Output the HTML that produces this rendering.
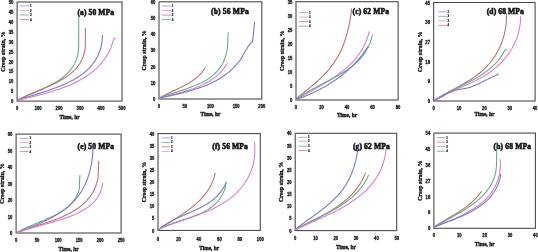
<!DOCTYPE html>
<html><head><meta charset="utf-8"><style>
html,body{margin:0;padding:0;background:#fff;width:538px;height:252px;overflow:hidden}
svg{display:block;will-change:transform}
.tk{font-family:"Liberation Sans", sans-serif;font-weight:bold;font-size:5.0px;fill:#151515;stroke:#151515;stroke-width:0.32}
.al{font-family:"Liberation Serif", serif;font-weight:bold;font-size:5.4px;fill:#111;stroke:#111;stroke-width:0.32}
.yl{font-family:"Liberation Serif", serif;font-weight:bold;font-size:5.9px;fill:#111;stroke:#111;stroke-width:0.3}
.ti{font-family:"Liberation Serif", serif;font-weight:bold;font-size:7.6px;fill:#111;stroke:#111;stroke-width:0.55}
.lg{font-family:"Liberation Sans", sans-serif;font-weight:bold;font-size:2.9px;fill:#222;stroke:#222;stroke-width:0.2}
</style></head><body>
<svg width="538" height="252" viewBox="0 0 538 252">
<g><rect x="17.1" y="2" width="104.9" height="99.1" fill="none" stroke="#4a4a4a" stroke-width="1.1"/><text x="13.4" y="103.15" text-anchor="end" class="tk" textLength="2.3" lengthAdjust="spacingAndGlyphs">0</text><text x="13.4" y="93.24" text-anchor="end" class="tk" textLength="2.3" lengthAdjust="spacingAndGlyphs">5</text><text x="13.4" y="83.33" text-anchor="end" class="tk" textLength="4.6" lengthAdjust="spacingAndGlyphs">10</text><text x="13.4" y="73.42" text-anchor="end" class="tk" textLength="4.6" lengthAdjust="spacingAndGlyphs">15</text><text x="13.4" y="63.51" text-anchor="end" class="tk" textLength="4.6" lengthAdjust="spacingAndGlyphs">20</text><text x="13.4" y="53.6" text-anchor="end" class="tk" textLength="4.6" lengthAdjust="spacingAndGlyphs">25</text><text x="13.4" y="43.69" text-anchor="end" class="tk" textLength="4.6" lengthAdjust="spacingAndGlyphs">30</text><text x="13.4" y="33.78" text-anchor="end" class="tk" textLength="4.6" lengthAdjust="spacingAndGlyphs">35</text><text x="13.4" y="23.87" text-anchor="end" class="tk" textLength="4.6" lengthAdjust="spacingAndGlyphs">40</text><text x="13.4" y="13.96" text-anchor="end" class="tk" textLength="4.6" lengthAdjust="spacingAndGlyphs">45</text><text x="13.4" y="4.05" text-anchor="end" class="tk" textLength="4.6" lengthAdjust="spacingAndGlyphs">50</text><text x="17.1" y="109.85" text-anchor="middle" class="tk" textLength="2.3" lengthAdjust="spacingAndGlyphs">0</text><text x="38.08" y="109.85" text-anchor="middle" class="tk" textLength="6.9" lengthAdjust="spacingAndGlyphs">100</text><text x="59.06" y="109.85" text-anchor="middle" class="tk" textLength="6.9" lengthAdjust="spacingAndGlyphs">200</text><text x="80.04" y="109.85" text-anchor="middle" class="tk" textLength="6.9" lengthAdjust="spacingAndGlyphs">300</text><text x="101.02" y="109.85" text-anchor="middle" class="tk" textLength="6.9" lengthAdjust="spacingAndGlyphs">400</text><text x="122" y="109.85" text-anchor="middle" class="tk" textLength="6.9" lengthAdjust="spacingAndGlyphs">500</text><text x="69.55" y="118.88" text-anchor="middle" class="al">Time, hr</text><text transform="translate(5.11 51.55) rotate(-90)" x="0" y="0" text-anchor="middle" class="yl">Creep strain, %</text><text x="77.5" y="14.88" class="ti" textLength="36.5" lengthAdjust="spacing">(a) 50 MPa</text><path d="M17.3 100.3 L17.94 99.79 L18.51 99.53 L19.07 99.27 L19.64 99 L20.22 98.74 L20.8 98.48 L21.38 98.22 L21.97 97.96 L22.56 97.69 L23.16 97.43 L23.76 97.17 L24.36 96.91 L24.96 96.65 L25.57 96.39 L26.18 96.13 L26.8 95.87 L27.41 95.61 L28.03 95.35 L28.65 95.09 L29.28 94.83 L29.9 94.57 L30.53 94.31 L31.16 94.04 L31.79 93.78 L32.42 93.51 L33.05 93.25 L33.69 92.98 L34.32 92.71 L34.96 92.44 L35.6 92.17 L36.24 91.9 L36.87 91.63 L37.51 91.35 L38.15 91.07 L38.79 90.8 L39.43 90.52 L40.07 90.24 L40.71 89.95 L41.34 89.67 L41.98 89.38 L42.62 89.09 L43.25 88.8 L43.89 88.5 L44.52 88.21 L45.15 87.91 L45.78 87.61 L46.41 87.3 L47.03 86.99 L47.66 86.68 L48.28 86.37 L48.9 86.06 L49.52 85.74 L50.13 85.42 L50.75 85.09 L51.36 84.77 L51.96 84.43 L52.57 84.1 L53.17 83.76 L53.76 83.42 L54.36 83.08 L54.95 82.73 L55.53 82.37 L56.12 82.02 L56.69 81.66 L57.27 81.29 L57.84 80.93 L58.4 80.55 L58.96 80.18 L59.52 79.8 L60.07 79.41 L60.61 79.02 L61.15 78.63 L61.69 78.23 L62.22 77.82 L62.74 77.41 L63.26 77 L63.77 76.58 L64.27 76.16 L64.77 75.73 L65.27 75.3 L65.75 74.86 L66.23 74.41 L66.71 73.96 L67.17 73.51 L67.63 73.05 L68.08 72.58 L68.53 72.11 L68.96 71.63 L69.39 71.15 L69.81 70.66 L70.23 70.16 L70.63 69.66 L71.03 69.15 L71.42 68.64 L71.8 68.11 L72.17 67.59 L72.53 67.05 L72.89 66.51 L73.23 65.97 L73.57 65.41 L73.89 64.85 L74.21 64.28 L74.52 63.71 L74.81 63.13 L75.1 62.54 L75.38 61.94 L75.64 61.34 L75.9 60.73 L76.15 60.11 L76.38 59.49 L76.6 58.85 L76.82 58.21 L77.02 57.56 L77.21 56.91 L77.39 56.24 L77.56 55.57 L77.72 54.89 L77.86 54.2 L77.99 53.5 L78.11 52.8 L78.22 52.08 L78.32 51.36 L78.4 50.63 L78.47 49.89 L78.53 49.14 L78.58 48.39 L78.61 47.62 L78.63 46.85 L78.63 46.06 L78.62 45.27 L78.7 45 L78.75 15.6" fill="none" stroke="#5caa80" stroke-width="1.05" stroke-linejoin="round"/><path d="M17.3 100.3 L17.99 99.99 L18.53 99.69 L19.06 99.39 L19.61 99.09 L20.16 98.8 L20.71 98.5 L21.27 98.21 L21.84 97.92 L22.41 97.64 L22.98 97.35 L23.56 97.07 L24.14 96.79 L24.72 96.51 L25.31 96.23 L25.91 95.95 L26.51 95.68 L27.11 95.4 L27.71 95.13 L28.32 94.86 L28.93 94.59 L29.54 94.32 L30.16 94.05 L30.78 93.78 L31.4 93.52 L32.03 93.25 L32.65 92.98 L33.28 92.72 L33.91 92.45 L34.54 92.19 L35.18 91.92 L35.82 91.66 L36.45 91.39 L37.09 91.13 L37.73 90.86 L38.38 90.6 L39.02 90.33 L39.66 90.07 L40.31 89.8 L40.95 89.53 L41.6 89.26 L42.24 88.99 L42.89 88.72 L43.54 88.45 L44.18 88.18 L44.83 87.91 L45.47 87.63 L46.12 87.35 L46.76 87.08 L47.41 86.8 L48.05 86.52 L48.69 86.23 L49.33 85.95 L49.97 85.66 L50.61 85.37 L51.25 85.08 L51.88 84.79 L52.51 84.49 L53.14 84.2 L53.77 83.89 L54.4 83.59 L55.02 83.29 L55.65 82.98 L56.27 82.67 L56.88 82.35 L57.5 82.04 L58.11 81.72 L58.71 81.39 L59.32 81.07 L59.92 80.74 L60.52 80.4 L61.11 80.07 L61.7 79.73 L62.29 79.38 L62.87 79.03 L63.45 78.68 L64.02 78.32 L64.59 77.96 L65.15 77.6 L65.71 77.23 L66.27 76.86 L66.82 76.48 L67.36 76.1 L67.9 75.71 L68.43 75.32 L68.96 74.92 L69.49 74.52 L70 74.12 L70.51 73.7 L71.02 73.29 L71.52 72.87 L72.01 72.44 L72.49 72.01 L72.97 71.57 L73.45 71.12 L73.91 70.67 L74.37 70.22 L74.82 69.76 L75.26 69.29 L75.7 68.82 L76.13 68.34 L76.55 67.85 L76.97 67.36 L77.37 66.86 L77.77 66.35 L78.16 65.84 L78.54 65.32 L78.91 64.8 L79.27 64.26 L79.63 63.72 L79.98 63.18 L80.31 62.62 L80.64 62.06 L80.96 61.5 L81.27 60.92 L81.57 60.34 L81.86 59.75 L82.14 59.15 L82.41 58.54 L82.67 57.93 L82.92 57.3 L83.16 56.67 L83.39 56.03 L83.61 55.39 L83.81 54.73 L84.01 54.07 L84.2 53.4 L84.37 52.71 L84.53 52.03 L84.69 51.33 L84.83 50.62 L84.96 49.9 L85.07 49.18 L85.18 48.44 L85.27 47.7 L85.35 46.95 L85.42 46.18 L85.47 45.41 L85.3 45 L85.4 28.1" fill="none" stroke="#bc6c64" stroke-width="1.05" stroke-linejoin="round"/><path d="M17.3 100.3 L18.07 99.98 L18.65 99.78 L19.23 99.59 L19.81 99.4 L20.4 99.21 L20.99 99.01 L21.58 98.82 L22.18 98.63 L22.78 98.44 L23.39 98.25 L23.99 98.06 L24.6 97.87 L25.22 97.68 L25.83 97.49 L26.45 97.3 L27.07 97.1 L27.69 96.91 L28.32 96.72 L28.95 96.53 L29.58 96.34 L30.21 96.15 L30.84 95.95 L31.48 95.76 L32.12 95.57 L32.76 95.37 L33.4 95.18 L34.04 94.98 L34.69 94.79 L35.34 94.59 L35.98 94.39 L36.63 94.19 L37.28 93.99 L37.94 93.79 L38.59 93.59 L39.24 93.39 L39.9 93.19 L40.55 92.98 L41.21 92.77 L41.87 92.57 L42.53 92.36 L43.19 92.15 L43.84 91.94 L44.5 91.73 L45.16 91.51 L45.82 91.3 L46.48 91.08 L47.14 90.86 L47.8 90.64 L48.46 90.42 L49.12 90.2 L49.78 89.97 L50.44 89.74 L51.1 89.52 L51.76 89.28 L52.41 89.05 L53.07 88.82 L53.73 88.58 L54.38 88.34 L55.04 88.1 L55.69 87.85 L56.34 87.61 L56.99 87.36 L57.64 87.11 L58.29 86.86 L58.94 86.6 L59.58 86.34 L60.22 86.08 L60.87 85.82 L61.51 85.55 L62.14 85.29 L62.78 85.01 L63.41 84.74 L64.05 84.46 L64.68 84.18 L65.3 83.9 L65.93 83.61 L66.55 83.33 L67.17 83.03 L67.79 82.74 L68.4 82.44 L69.02 82.14 L69.63 81.83 L70.23 81.53 L70.84 81.21 L71.44 80.9 L72.03 80.58 L72.63 80.26 L73.22 79.93 L73.81 79.61 L74.39 79.27 L74.97 78.94 L75.55 78.6 L76.12 78.25 L76.69 77.9 L77.25 77.55 L77.81 77.2 L78.37 76.84 L78.92 76.47 L79.47 76.11 L80.02 75.73 L80.56 75.36 L81.09 74.98 L81.62 74.59 L82.15 74.2 L82.67 73.81 L83.19 73.41 L83.7 73.01 L84.21 72.6 L84.71 72.19 L85.2 71.78 L85.69 71.36 L86.18 70.93 L86.66 70.5 L87.14 70.07 L87.61 69.63 L88.07 69.18 L88.53 68.73 L88.98 68.28 L89.43 67.82 L89.87 67.35 L90.3 66.88 L90.73 66.41 L91.15 65.93 L91.57 65.44 L91.98 64.95 L92.38 64.46 L92.78 63.95 L93.17 63.45 L93.55 62.93 L93.93 62.42 L94.29 61.89 L94.66 61.36 L95.01 60.83 L95.36 60.29 L95.7 59.74 L96.03 59.19 L96.36 58.64 L96.68 58.07 L96.99 57.5 L97.29 56.93 L97.59 56.35 L97.88 55.76 L98.16 55.17 L98.43 54.57 L98.69 53.97 L98.95 53.35 L99.2 52.74 L99.43 52.11 L99.66 51.49 L99.89 50.85 L100.1 50.21 L100.31 49.56 L100.5 48.91 L100.69 48.25 L100.87 47.58 L101.04 46.9 L101.2 46.22 L101.35 45.54 L101.49 44.84 L101.62 44.14 L101.74 43.44 L101.86 42.72 L101.96 42 L102.05 41.28 L102.14 40.54 L102.21 39.8 L102.28 39.06 L102.33 38.3 L102.38 37.54 L102.41 36.77 L102.43 36 L102.45 35.21 L102.5 35" fill="none" stroke="#7674c0" stroke-width="1.05" stroke-linejoin="round"/><path d="M17.3 100.3 L18.12 100.12 L18.73 99.97 L19.34 99.83 L19.95 99.68 L20.56 99.54 L21.18 99.39 L21.79 99.25 L22.41 99.1 L23.04 98.96 L23.66 98.81 L24.29 98.66 L24.92 98.52 L25.55 98.37 L26.18 98.22 L26.81 98.07 L27.45 97.92 L28.09 97.77 L28.72 97.61 L29.37 97.46 L30.01 97.31 L30.65 97.15 L31.3 97 L31.94 96.84 L32.59 96.68 L33.24 96.53 L33.89 96.37 L34.54 96.21 L35.19 96.04 L35.85 95.88 L36.5 95.72 L37.15 95.55 L37.81 95.39 L38.47 95.22 L39.12 95.05 L39.78 94.88 L40.44 94.71 L41.1 94.54 L41.76 94.36 L42.42 94.18 L43.08 94.01 L43.74 93.83 L44.4 93.65 L45.07 93.46 L45.73 93.28 L46.39 93.1 L47.05 92.91 L47.71 92.72 L48.38 92.53 L49.04 92.34 L49.7 92.14 L50.36 91.94 L51.02 91.75 L51.68 91.55 L52.34 91.34 L53 91.14 L53.66 90.93 L54.32 90.72 L54.98 90.51 L55.64 90.3 L56.3 90.09 L56.95 89.87 L57.61 89.65 L58.26 89.43 L58.92 89.2 L59.57 88.98 L60.22 88.75 L60.87 88.52 L61.52 88.28 L62.17 88.05 L62.82 87.81 L63.46 87.57 L64.11 87.32 L64.75 87.08 L65.39 86.83 L66.03 86.58 L66.67 86.32 L67.31 86.07 L67.94 85.81 L68.58 85.54 L69.21 85.28 L69.84 85.01 L70.47 84.74 L71.09 84.46 L71.72 84.18 L72.34 83.9 L72.96 83.62 L73.58 83.33 L74.19 83.04 L74.8 82.75 L75.41 82.46 L76.02 82.16 L76.63 81.85 L77.23 81.55 L77.83 81.24 L78.43 80.93 L79.02 80.61 L79.62 80.29 L80.21 79.97 L80.79 79.64 L81.38 79.31 L81.96 78.98 L82.54 78.64 L83.11 78.3 L83.68 77.96 L84.25 77.61 L84.82 77.26 L85.38 76.9 L85.94 76.54 L86.49 76.18 L87.04 75.81 L87.59 75.44 L88.14 75.07 L88.68 74.69 L89.22 74.3 L89.75 73.92 L90.28 73.53 L90.81 73.13 L91.33 72.73 L91.85 72.33 L92.36 71.92 L92.87 71.51 L93.38 71.09 L93.88 70.67 L94.37 70.25 L94.87 69.82 L95.36 69.39 L95.84 68.95 L96.32 68.51 L96.8 68.06 L97.27 67.61 L97.73 67.15 L98.19 66.69 L98.65 66.23 L99.1 65.76 L99.55 65.28 L99.99 64.8 L100.43 64.32 L100.86 63.83 L101.29 63.34 L101.71 62.84 L102.13 62.33 L102.54 61.83 L102.95 61.31 L103.35 60.79 L103.74 60.27 L104.13 59.74 L104.52 59.21 L104.9 58.67 L105.27 58.13 L105.64 57.58 L106 57.02 L106.36 56.46 L106.71 55.9 L107.05 55.33 L107.39 54.75 L107.72 54.17 L108.05 53.58 L108.37 52.99 L108.68 52.4 L108.99 51.79 L109.29 51.18 L109.59 50.57 L109.88 49.95 L110.16 49.32 L110.44 48.69 L110.71 48.06 L110.97 47.41 L111.23 46.76 L111.47 46.11 L111.72 45.45 L111.95 44.78 L112.18 44.11 L112.4 43.43 L112.62 42.75 L112.83 42.06 L113.03 41.36 L113.22 40.66 L113.41 39.95 L113.59 39.24 L113.9 38.9 L114.8 38.2 L116 38.3" fill="none" stroke="#d878d6" stroke-width="1.05" stroke-linejoin="round"/><line x1="19.8" y1="5.9" x2="29" y2="5.9" stroke="#a8a8dc" stroke-width="1"/><text x="29.9" y="6.95" class="lg">1</text><line x1="19.8" y1="10.6" x2="29" y2="10.6" stroke="#e8a0e0" stroke-width="1"/><text x="29.9" y="11.65" class="lg">2</text><line x1="19.8" y1="15" x2="29" y2="15" stroke="#80c0a0" stroke-width="1"/><text x="29.9" y="16.05" class="lg">3</text><line x1="19.8" y1="19.5" x2="29" y2="19.5" stroke="#d09890" stroke-width="1"/><text x="29.9" y="20.55" class="lg">4</text></g>
<g><rect x="159" y="1.8" width="102.8" height="97.2" fill="none" stroke="#4a4a4a" stroke-width="1.1"/><text x="155.3" y="101.05" text-anchor="end" class="tk" textLength="2.3" lengthAdjust="spacingAndGlyphs">0</text><text x="155.3" y="84.85" text-anchor="end" class="tk" textLength="4.6" lengthAdjust="spacingAndGlyphs">10</text><text x="155.3" y="68.65" text-anchor="end" class="tk" textLength="4.6" lengthAdjust="spacingAndGlyphs">20</text><text x="155.3" y="52.45" text-anchor="end" class="tk" textLength="4.6" lengthAdjust="spacingAndGlyphs">30</text><text x="155.3" y="36.25" text-anchor="end" class="tk" textLength="4.6" lengthAdjust="spacingAndGlyphs">40</text><text x="155.3" y="20.05" text-anchor="end" class="tk" textLength="4.6" lengthAdjust="spacingAndGlyphs">50</text><text x="155.3" y="3.85" text-anchor="end" class="tk" textLength="4.6" lengthAdjust="spacingAndGlyphs">60</text><text x="159" y="108.16" text-anchor="middle" class="tk" textLength="2.3" lengthAdjust="spacingAndGlyphs">0</text><text x="184.7" y="108.16" text-anchor="middle" class="tk" textLength="4.6" lengthAdjust="spacingAndGlyphs">50</text><text x="210.4" y="108.16" text-anchor="middle" class="tk" textLength="6.9" lengthAdjust="spacingAndGlyphs">100</text><text x="236.1" y="108.16" text-anchor="middle" class="tk" textLength="6.9" lengthAdjust="spacingAndGlyphs">150</text><text x="261.8" y="108.16" text-anchor="middle" class="tk" textLength="6.9" lengthAdjust="spacingAndGlyphs">200</text><text x="210.4" y="115.58" text-anchor="middle" class="al">Time, hr</text><text transform="translate(146.01 50.4) rotate(-90)" x="0" y="0" text-anchor="middle" class="yl">Creep strain, %</text><text x="211" y="14.48" class="ti" textLength="37.8" lengthAdjust="spacing">(b) 56 MPa</text><path d="M159.3 98.3 L159.79 97.78 L160.36 97.43 L160.94 97.09 L161.51 96.76 L162.1 96.43 L162.68 96.1 L163.27 95.78 L163.86 95.46 L164.45 95.15 L165.04 94.84 L165.64 94.53 L166.24 94.22 L166.84 93.92 L167.45 93.62 L168.06 93.32 L168.66 93.03 L169.27 92.73 L169.88 92.44 L170.5 92.15 L171.11 91.86 L171.72 91.58 L172.34 91.29 L172.96 91 L173.57 90.72 L174.19 90.43 L174.81 90.15 L175.42 89.86 L176.04 89.58 L176.66 89.29 L177.27 89 L177.89 88.72 L178.5 88.43 L179.12 88.14 L179.73 87.85 L180.34 87.55 L180.95 87.26 L181.56 86.96 L182.17 86.66 L182.77 86.36 L183.38 86.05 L183.98 85.75 L184.58 85.43 L185.18 85.12 L185.77 84.8 L186.36 84.48 L186.95 84.15 L187.54 83.82 L188.12 83.49 L188.7 83.15 L189.27 82.81 L189.85 82.46 L190.41 82.1 L190.98 81.74 L191.54 81.38 L192.09 81.01 L192.65 80.63 L193.19 80.25 L193.73 79.86 L194.27 79.46 L194.8 79.06 L195.33 78.65 L195.85 78.23 L196.37 77.8 L196.88 77.37 L197.38 76.93 L197.88 76.48 L198.38 76.02 L198.86 75.56 L199.34 75.08 L199.82 74.6 L200.28 74.11 L200.74 73.61 L201.2 73.1 L201.64 72.58 L202.08 72.04 L202.51 71.5 L202.94 70.95 L203.35 70.39 L203.76 69.82 L204.16 69.23 L204.55 68.64 L204.93 68.03 L205.4 67.6" fill="none" stroke="#bc6c64" stroke-width="1.05" stroke-linejoin="round"/><path d="M159.3 98.3 L159.88 97.84 L160.47 97.6 L161.06 97.36 L161.65 97.12 L162.25 96.88 L162.85 96.65 L163.46 96.42 L164.06 96.19 L164.68 95.97 L165.29 95.74 L165.91 95.52 L166.53 95.3 L167.15 95.08 L167.78 94.86 L168.41 94.65 L169.04 94.43 L169.67 94.22 L170.31 94.01 L170.95 93.8 L171.59 93.59 L172.23 93.38 L172.87 93.17 L173.51 92.96 L174.16 92.75 L174.81 92.54 L175.46 92.33 L176.11 92.13 L176.76 91.92 L177.41 91.71 L178.06 91.5 L178.72 91.29 L179.37 91.08 L180.03 90.87 L180.68 90.66 L181.33 90.45 L181.99 90.24 L182.64 90.02 L183.3 89.81 L183.95 89.59 L184.61 89.38 L185.26 89.16 L185.91 88.94 L186.57 88.72 L187.22 88.49 L187.87 88.27 L188.52 88.04 L189.16 87.81 L189.81 87.57 L190.46 87.34 L191.1 87.1 L191.74 86.86 L192.38 86.62 L193.02 86.37 L193.65 86.13 L194.29 85.87 L194.92 85.62 L195.55 85.36 L196.17 85.1 L196.8 84.84 L197.42 84.57 L198.04 84.29 L198.65 84.02 L199.26 83.74 L199.87 83.45 L200.48 83.17 L201.08 82.87 L201.68 82.58 L202.27 82.27 L202.86 81.97 L203.45 81.66 L204.03 81.34 L204.61 81.02 L205.19 80.69 L205.76 80.36 L206.32 80.03 L206.88 79.69 L207.44 79.34 L207.99 78.99 L208.53 78.63 L209.07 78.26 L209.61 77.89 L210.14 77.52 L210.66 77.13 L211.18 76.74 L211.7 76.35 L212.2 75.95 L212.71 75.54 L213.2 75.12 L213.69 74.7 L214.17 74.27 L214.65 73.84 L215.12 73.39 L215.58 72.94 L216.04 72.48 L216.49 72.02 L216.93 71.55 L217.36 71.07 L217.79 70.58 L218.21 70.08 L218.63 69.57 L219.03 69.06 L219.43 68.54 L219.82 68.01 L220.2 67.47 L220.57 66.93 L220.94 66.37 L221.3 65.81 L221.65 65.23 L221.99 64.65 L222.32 64.06 L222.64 63.46 L222.95 62.85 L223.26 62.23 L223.55 61.6 L223.84 60.96 L224.12 60.31 L224.38 59.65 L224.64 58.98 L224.89 58.3 L225.13 57.61 L225.36 56.91 L225.57 56.2 L225.78 55.48 L225.98 54.75 L226.16 54 L226.34 53.25 L226.6 53 L227.6 46 L228.1 32.6" fill="none" stroke="#5caa80" stroke-width="1.05" stroke-linejoin="round"/><path d="M159.3 98.3 L159.95 98.01 L160.57 97.83 L161.19 97.65 L161.82 97.48 L162.45 97.3 L163.08 97.13 L163.71 96.96 L164.35 96.78 L164.98 96.61 L165.62 96.44 L166.26 96.27 L166.91 96.1 L167.55 95.93 L168.2 95.76 L168.84 95.6 L169.49 95.43 L170.14 95.26 L170.79 95.09 L171.45 94.92 L172.1 94.75 L172.75 94.58 L173.41 94.41 L174.06 94.24 L174.72 94.07 L175.38 93.9 L176.04 93.73 L176.69 93.56 L177.35 93.38 L178.01 93.21 L178.67 93.03 L179.33 92.85 L179.99 92.67 L180.65 92.49 L181.31 92.31 L181.97 92.13 L182.63 91.94 L183.29 91.76 L183.94 91.57 L184.6 91.38 L185.26 91.18 L185.91 90.99 L186.57 90.79 L187.22 90.59 L187.88 90.39 L188.53 90.18 L189.18 89.98 L189.83 89.77 L190.48 89.55 L191.13 89.34 L191.77 89.12 L192.42 88.9 L193.06 88.67 L193.7 88.44 L194.34 88.21 L194.98 87.98 L195.61 87.74 L196.25 87.5 L196.88 87.25 L197.51 87 L198.13 86.75 L198.76 86.49 L199.38 86.23 L200 85.96 L200.62 85.69 L201.23 85.42 L201.84 85.14 L202.45 84.86 L203.05 84.57 L203.66 84.28 L204.26 83.98 L204.85 83.68 L205.44 83.37 L206.03 83.06 L206.62 82.74 L207.2 82.42 L207.78 82.09 L208.35 81.75 L208.93 81.42 L209.49 81.07 L210.06 80.72 L210.62 80.36 L211.17 80 L211.72 79.63 L212.27 79.26 L212.81 78.88 L213.35 78.49 L213.88 78.1 L214.41 77.7 L214.93 77.29 L215.45 76.88 L215.97 76.46 L216.47 76.03 L216.98 75.6 L217.48 75.16 L217.97 74.71 L218.46 74.26 L218.94 73.8 L219.42 73.33 L219.89 72.85 L220.36 72.36 L220.82 71.87 L221.27 71.37 L221.72 70.87 L222.16 70.35 L222.6 69.83 L223.03 69.3 L223.46 68.76 L223.87 68.21 L224.29 67.65 L224.69 67.09 L225.09 66.51 L225.48 65.93 L225.87 65.34 L226.24 64.74 L226.62 64.13 L226.98 63.51 L227.2 63" fill="none" stroke="#d878d6" stroke-width="1.05" stroke-linejoin="round"/><path d="M159.3 98.3 L159.98 98.15 L160.63 98 L161.27 97.85 L161.91 97.7 L162.56 97.55 L163.21 97.4 L163.85 97.25 L164.5 97.11 L165.15 96.96 L165.8 96.81 L166.45 96.66 L167.1 96.51 L167.76 96.36 L168.41 96.22 L169.06 96.07 L169.72 95.92 L170.37 95.77 L171.03 95.62 L171.68 95.47 L172.34 95.32 L173 95.16 L173.65 95.01 L174.31 94.86 L174.97 94.7 L175.62 94.55 L176.28 94.39 L176.94 94.24 L177.6 94.08 L178.25 93.92 L178.91 93.76 L179.57 93.6 L180.23 93.44 L180.88 93.28 L181.54 93.11 L182.2 92.95 L182.85 92.78 L183.51 92.61 L184.17 92.44 L184.82 92.27 L185.48 92.1 L186.13 91.92 L186.79 91.75 L187.44 91.57 L188.09 91.39 L188.75 91.21 L189.4 91.03 L190.05 90.84 L190.7 90.65 L191.35 90.46 L192 90.27 L192.65 90.08 L193.29 89.88 L193.94 89.68 L194.58 89.48 L195.23 89.28 L195.87 89.07 L196.51 88.87 L197.15 88.65 L197.79 88.44 L198.43 88.23 L199.07 88.01 L199.7 87.79 L200.34 87.56 L200.97 87.33 L201.6 87.11 L202.23 86.87 L202.86 86.64 L203.48 86.4 L204.11 86.16 L204.73 85.91 L205.35 85.66 L205.97 85.41 L206.59 85.15 L207.21 84.9 L207.82 84.63 L208.44 84.37 L209.05 84.1 L209.65 83.83 L210.26 83.55 L210.87 83.27 L211.47 82.99 L212.07 82.7 L212.67 82.41 L213.26 82.11 L213.86 81.81 L214.45 81.51 L215.04 81.2 L215.62 80.89 L216.21 80.57 L216.79 80.25 L217.37 79.93 L217.94 79.6 L218.52 79.27 L219.09 78.93 L219.66 78.58 L220.22 78.24 L220.79 77.89 L221.35 77.53 L221.9 77.17 L222.46 76.8 L223.01 76.43 L223.56 76.06 L224.1 75.68 L224.65 75.29 L225.19 74.9 L225.72 74.51 L226.26 74.11 L226.79 73.7 L227.31 73.29 L227.84 72.87 L228.36 72.45 L228.87 72.02 L229.39 71.59 L229.9 71.15 L230.4 70.71 L230.91 70.26 L231.4 69.8 L231.9 69.34 L232.39 68.88 L232.88 68.4 L233.36 67.92 L233.84 67.44 L234.32 66.95 L234.79 66.45 L235.26 65.95 L235.73 65.44 L236.19 64.93 L236.65 64.41 L237.1 63.88 L237.55 63.34 L237.99 62.8 L238.43 62.26 L238.87 61.7 L239.3 61.14 L239.8 60.8 L247.8 46.9 L250.8 42.9 L252.5 41.5 L253.5 33 L254.6 21.8" fill="none" stroke="#7674c0" stroke-width="1.05" stroke-linejoin="round"/><line x1="161.7" y1="6" x2="170.9" y2="6" stroke="#a8a8dc" stroke-width="1"/><text x="171.8" y="7.05" class="lg">1</text><line x1="161.7" y1="10.5" x2="170.9" y2="10.5" stroke="#e8a0e0" stroke-width="1"/><text x="171.8" y="11.55" class="lg">2</text><line x1="161.7" y1="15.1" x2="170.9" y2="15.1" stroke="#d09890" stroke-width="1"/><text x="171.8" y="16.15" class="lg">3</text><line x1="161.7" y1="19.5" x2="170.9" y2="19.5" stroke="#80c0a0" stroke-width="1"/><text x="171.8" y="20.55" class="lg">4</text></g>
<g><rect x="296" y="1.7" width="102.1" height="98.3" fill="none" stroke="#4a4a4a" stroke-width="1.1"/><text x="292.3" y="102.05" text-anchor="end" class="tk" textLength="2.3" lengthAdjust="spacingAndGlyphs">0</text><text x="292.3" y="88.01" text-anchor="end" class="tk" textLength="2.3" lengthAdjust="spacingAndGlyphs">5</text><text x="292.3" y="73.96" text-anchor="end" class="tk" textLength="4.6" lengthAdjust="spacingAndGlyphs">10</text><text x="292.3" y="59.92" text-anchor="end" class="tk" textLength="4.6" lengthAdjust="spacingAndGlyphs">15</text><text x="292.3" y="45.88" text-anchor="end" class="tk" textLength="4.6" lengthAdjust="spacingAndGlyphs">20</text><text x="292.3" y="31.84" text-anchor="end" class="tk" textLength="4.6" lengthAdjust="spacingAndGlyphs">25</text><text x="292.3" y="17.79" text-anchor="end" class="tk" textLength="4.6" lengthAdjust="spacingAndGlyphs">30</text><text x="292.3" y="3.75" text-anchor="end" class="tk" textLength="4.6" lengthAdjust="spacingAndGlyphs">35</text><text x="296" y="109.16" text-anchor="middle" class="tk" textLength="2.3" lengthAdjust="spacingAndGlyphs">0</text><text x="321.52" y="109.16" text-anchor="middle" class="tk" textLength="4.6" lengthAdjust="spacingAndGlyphs">20</text><text x="347.05" y="109.16" text-anchor="middle" class="tk" textLength="4.6" lengthAdjust="spacingAndGlyphs">40</text><text x="372.58" y="109.16" text-anchor="middle" class="tk" textLength="4.6" lengthAdjust="spacingAndGlyphs">60</text><text x="398.1" y="109.16" text-anchor="middle" class="tk" textLength="4.6" lengthAdjust="spacingAndGlyphs">80</text><text x="347.05" y="117.38" text-anchor="middle" class="al">Time, hr</text><text transform="translate(284.01 50.85) rotate(-90)" x="0" y="0" text-anchor="middle" class="yl">Creep strain, %</text><text x="352.5" y="14.48" class="ti" textLength="36.5" lengthAdjust="spacing">(c) 62 MPa</text><path d="M296.1 99.5 L296.23 98.65 L296.75 98.22 L297.26 97.8 L297.78 97.37 L298.3 96.95 L298.83 96.52 L299.35 96.1 L299.87 95.68 L300.4 95.26 L300.93 94.83 L301.45 94.41 L301.98 93.99 L302.51 93.57 L303.04 93.15 L303.56 92.73 L304.09 92.31 L304.62 91.88 L305.15 91.46 L305.68 91.04 L306.21 90.62 L306.74 90.19 L307.27 89.77 L307.8 89.34 L308.32 88.92 L308.85 88.49 L309.38 88.07 L309.9 87.64 L310.43 87.21 L310.95 86.78 L311.47 86.35 L312 85.92 L312.52 85.48 L313.03 85.05 L313.55 84.61 L314.07 84.18 L314.58 83.74 L315.09 83.3 L315.61 82.85 L316.11 82.41 L316.62 81.96 L317.13 81.52 L317.63 81.07 L318.13 80.61 L318.63 80.16 L319.12 79.7 L319.61 79.25 L320.1 78.79 L320.59 78.32 L321.07 77.86 L321.55 77.39 L322.03 76.92 L322.51 76.44 L322.98 75.97 L323.45 75.49 L323.91 75.01 L324.37 74.52 L324.83 74.04 L325.29 73.55 L325.74 73.05 L326.19 72.56 L326.63 72.06 L327.07 71.56 L327.51 71.06 L327.94 70.55 L328.38 70.04 L328.8 69.53 L329.23 69.01 L329.64 68.5 L330.06 67.97 L330.47 67.45 L330.88 66.93 L331.28 66.4 L331.68 65.87 L332.08 65.33 L332.47 64.79 L332.86 64.25 L333.25 63.71 L333.63 63.17 L334 62.62 L334.38 62.07 L334.74 61.51 L335.11 60.95 L335.47 60.39 L335.82 59.83 L336.18 59.27 L336.52 58.7 L336.87 58.13 L337.21 57.55 L337.54 56.98 L337.87 56.4 L338.2 55.81 L338.52 55.23 L338.83 54.64 L339.15 54.05 L339.45 53.45 L339.76 52.86 L340.06 52.26 L340.35 51.66 L340.64 51.05 L340.93 50.44 L341.21 49.83 L341.49 49.22 L341.76 48.61 L342.03 47.99 L342.29 47.37 L342.55 46.75 L342.81 46.12 L343.06 45.5 L343.31 44.87 L343.56 44.24 L343.8 43.61 L344.04 42.98 L344.27 42.34 L344.5 41.7 L344.72 41.06 L344.94 40.42 L345.16 39.78 L345.38 39.13 L345.59 38.49 L345.79 37.84 L345.99 37.19 L346.19 36.54 L346.39 35.89 L346.58 35.24 L346.77 34.58 L346.95 33.93 L347.14 33.27 L347.31 32.61 L347.49 31.96 L347.66 31.3 L347.83 30.64 L347.99 29.97 L348.15 29.31 L348.31 28.65 L348.46 27.98 L348.61 27.32 L348.76 26.65 L348.91 25.99 L349.05 25.32 L349.19 24.66 L349.32 23.99 L349.45 23.32 L349.58 22.65 L349.71 21.98 L349.83 21.32 L349.95 20.65 L350.07 19.98 L350.19 19.31 L350.3 18.64 L350.41 17.97 L350.51 17.3 L350.62 16.63 L350.72 15.97 L350.81 15.3 L350.91 14.63 L351 13.96 L351.09 13.29 L351.18 12.63 L351.26 11.96 L351.35 11.29 L351.43 10.63 L351.5 9.96 L351.58 9.3 L351.7 8.7" fill="none" stroke="#bc6c64" stroke-width="1.05" stroke-linejoin="round"/><path d="M296.1 99.5 L296.75 99.19 L297.3 98.87 L297.87 98.55 L298.43 98.23 L298.99 97.91 L299.56 97.58 L300.13 97.26 L300.7 96.94 L301.27 96.62 L301.84 96.3 L302.42 95.98 L302.99 95.66 L303.57 95.33 L304.15 95.01 L304.73 94.69 L305.31 94.37 L305.89 94.04 L306.48 93.72 L307.06 93.4 L307.64 93.07 L308.23 92.75 L308.82 92.42 L309.4 92.1 L309.99 91.77 L310.58 91.44 L311.17 91.11 L311.76 90.78 L312.35 90.45 L312.94 90.12 L313.53 89.79 L314.12 89.46 L314.71 89.13 L315.3 88.79 L315.89 88.46 L316.48 88.12 L317.07 87.79 L317.67 87.45 L318.26 87.11 L318.85 86.77 L319.44 86.43 L320.03 86.09 L320.62 85.74 L321.2 85.4 L321.79 85.05 L322.38 84.71 L322.97 84.36 L323.55 84.01 L324.14 83.65 L324.72 83.3 L325.31 82.95 L325.89 82.59 L326.47 82.23 L327.05 81.87 L327.63 81.51 L328.21 81.15 L328.79 80.78 L329.36 80.42 L329.94 80.05 L330.51 79.68 L331.08 79.31 L331.65 78.93 L332.22 78.56 L332.78 78.18 L333.35 77.8 L333.91 77.42 L334.47 77.04 L335.03 76.65 L335.59 76.26 L336.14 75.87 L336.69 75.48 L337.24 75.09 L337.79 74.69 L338.34 74.29 L338.88 73.89 L339.42 73.49 L339.96 73.08 L340.5 72.67 L341.03 72.26 L341.56 71.85 L342.09 71.43 L342.61 71.01 L343.14 70.59 L343.66 70.17 L344.17 69.74 L344.68 69.31 L345.2 68.88 L345.7 68.44 L346.21 68 L346.71 67.56 L347.2 67.12 L347.7 66.67 L348.19 66.22 L348.67 65.77 L349.16 65.32 L349.64 64.86 L350.11 64.4 L350.59 63.93 L351.05 63.46 L351.52 62.99 L351.98 62.52 L352.44 62.04 L352.89 61.56 L353.34 61.07 L353.78 60.59 L354.22 60.09 L354.66 59.6 L355.09 59.1 L355.51 58.6 L355.94 58.1 L356.35 57.59 L356.77 57.07 L357.17 56.56 L357.58 56.04 L357.98 55.51 L358.37 54.99 L358.76 54.46 L359.14 53.92 L359.52 53.38 L359.9 52.84 L360.27 52.29 L360.63 51.74 L360.99 51.19 L361.34 50.63 L361.69 50.07 L362.03 49.5 L362.37 48.93 L362.7 48.35 L363.02 47.77 L363.34 47.19 L363.66 46.6 L363.97 46.01 L364.27 45.41 L364.56 44.81 L364.85 44.21 L365.14 43.6 L365.42 42.98 L365.69 42.36 L365.95 41.74 L366.21 41.11 L366.47 40.48 L366.71 39.84 L366.95 39.2 L367.19 38.55 L367.41 37.9 L367.63 37.24 L367.85 36.58 L368.05 35.92 L368.25 35.25 L368.45 34.57 L368.63 33.89 L368.81 33.2 L368.98 32.51 L369.15 31.82 L369.3 31.25" fill="none" stroke="#d878d6" stroke-width="1.05" stroke-linejoin="round"/><path d="M296.1 99.5 L296.75 99.07 L297.26 98.69 L297.77 98.31 L298.29 97.93 L298.81 97.55 L299.34 97.18 L299.87 96.81 L300.4 96.44 L300.94 96.08 L301.48 95.72 L302.03 95.36 L302.58 95 L303.13 94.65 L303.68 94.3 L304.24 93.95 L304.8 93.6 L305.36 93.25 L305.93 92.91 L306.5 92.57 L307.07 92.23 L307.64 91.89 L308.22 91.56 L308.8 91.22 L309.38 90.89 L309.96 90.56 L310.55 90.23 L311.14 89.9 L311.73 89.57 L312.32 89.25 L312.91 88.93 L313.51 88.6 L314.1 88.28 L314.7 87.96 L315.3 87.64 L315.9 87.32 L316.5 87 L317.11 86.68 L317.71 86.36 L318.32 86.05 L318.92 85.73 L319.53 85.41 L320.14 85.1 L320.75 84.78 L321.36 84.47 L321.97 84.15 L322.58 83.84 L323.19 83.52 L323.8 83.21 L324.41 82.89 L325.02 82.58 L325.63 82.26 L326.24 81.94 L326.85 81.63 L327.46 81.31 L328.07 80.99 L328.68 80.67 L329.29 80.35 L329.9 80.03 L330.51 79.71 L331.12 79.39 L331.72 79.07 L332.33 78.74 L332.93 78.42 L333.53 78.09 L334.14 77.76 L334.74 77.43 L335.33 77.1 L335.93 76.77 L336.53 76.43 L337.12 76.1 L337.72 75.76 L338.31 75.42 L338.9 75.08 L339.48 74.74 L340.07 74.39 L340.65 74.04 L341.23 73.69 L341.81 73.34 L342.38 72.99 L342.96 72.63 L343.53 72.27 L344.1 71.91 L344.66 71.55 L345.22 71.18 L345.78 70.81 L346.34 70.44 L346.89 70.06 L347.44 69.68 L347.99 69.3 L348.53 68.92 L349.07 68.53 L349.61 68.14 L350.14 67.74 L350.67 67.35 L351.19 66.95 L351.72 66.54 L352.23 66.13 L352.75 65.72 L353.26 65.3 L353.76 64.89 L354.26 64.46 L354.76 64.03 L355.25 63.6 L355.74 63.17 L356.22 62.73 L356.7 62.28 L357.17 61.83 L357.64 61.38 L358.1 60.92 L358.56 60.46 L359.01 59.99 L359.46 59.52 L359.9 59.05 L360.34 58.57 L360.77 58.08 L361.19 57.59 L361.61 57.09 L362.03 56.59 L362.44 56.09 L362.84 55.58 L363.24 55.06 L363.63 54.54 L364.01 54.01 L364.39 53.48 L364.76 52.94 L365.12 52.39 L365.48 51.84 L365.83 51.29 L366.18 50.72 L366.52 50.16 L366.85 49.58 L367.17 49 L367.49 48.41 L367.8 47.82 L368.1 47.22 L368.4 46.62 L368.69 46.01 L368.97 45.39 L369.24 44.76 L369.51 44.13 L369.76 43.49 L370.01 42.85 L370.26 42.19 L370.49 41.53 L370.72 40.87 L370.93 40.19 L371.14 39.51 L371.34 38.82 L371.54 38.13 L371.72 37.43 L371.9 36.72 L372.06 36 L372.22 35.27 L372.3 34.8" fill="none" stroke="#5caa80" stroke-width="1.05" stroke-linejoin="round"/><path d="M296.1 99.5 L296.75 99.26 L297.38 99.04 L298.01 98.82 L298.64 98.59 L299.27 98.36 L299.9 98.13 L300.53 97.9 L301.16 97.66 L301.79 97.43 L302.42 97.19 L303.05 96.94 L303.68 96.7 L304.31 96.45 L304.93 96.2 L305.56 95.95 L306.18 95.69 L306.81 95.43 L307.43 95.17 L308.05 94.91 L308.67 94.65 L309.3 94.38 L309.92 94.11 L310.53 93.83 L311.15 93.56 L311.77 93.28 L312.39 93 L313 92.72 L313.62 92.43 L314.23 92.14 L314.84 91.85 L315.45 91.56 L316.06 91.26 L316.67 90.96 L317.28 90.66 L317.89 90.36 L318.49 90.05 L319.09 89.74 L319.7 89.43 L320.3 89.12 L320.9 88.8 L321.5 88.48 L322.09 88.16 L322.69 87.84 L323.29 87.51 L323.88 87.18 L324.47 86.85 L325.06 86.51 L325.65 86.17 L326.24 85.83 L326.82 85.49 L327.4 85.14 L327.99 84.8 L328.57 84.44 L329.15 84.09 L329.72 83.74 L330.3 83.38 L330.87 83.01 L331.44 82.65 L332.01 82.28 L332.58 81.91 L333.15 81.54 L333.71 81.17 L334.28 80.79 L334.84 80.41 L335.4 80.03 L335.95 79.64 L336.51 79.25 L337.06 78.86 L337.61 78.47 L338.16 78.07 L338.7 77.67 L339.25 77.27 L339.79 76.86 L340.33 76.46 L340.87 76.05 L341.4 75.63 L341.94 75.22 L342.47 74.8 L343 74.38 L343.52 73.95 L344.05 73.53 L344.57 73.1 L345.09 72.67 L345.6 72.23 L346.12 71.79 L346.63 71.35 L347.14 70.91 L347.64 70.46 L348.15 70.02 L348.65 69.56 L349.15 69.11 L349.64 68.65 L350.14 68.19 L350.63 67.73 L351.12 67.26 L351.6 66.8 L352.08 66.32 L352.56 65.85 L353.04 65.37 L353.51 64.89 L353.98 64.41 L354.45 63.93 L354.92 63.44 L355.38 62.95 L355.84 62.45 L356.3 61.96 L356.75 61.46 L357.2 60.96 L357.65 60.45 L358.09 59.94 L358.53 59.43 L358.97 58.92 L359.4 58.4 L359.83 57.88 L360.26 57.36 L360.69 56.83 L361.11 56.31 L361.53 55.78 L361.94 55.24 L362.35 54.7 L362.76 54.16 L363.17 53.62 L363.57 53.08 L363.96 52.53 L364.36 51.98 L364.75 51.42 L365.14 50.87 L365.52 50.31 L365.9 49.74 L366.28 49.18 L366.65 48.61 L367.02 48.04 L367.38 47.46 L367.75 46.88 L368.1 46.3 L368.4 45.7" fill="none" stroke="#7674c0" stroke-width="1.05" stroke-linejoin="round"/><line x1="299.1" y1="12.7" x2="308.2" y2="12.7" stroke="#a8a8dc" stroke-width="1"/><text x="309.1" y="13.75" class="lg">1</text><line x1="299.1" y1="17.1" x2="308.2" y2="17.1" stroke="#e8a0e0" stroke-width="1"/><text x="309.1" y="18.15" class="lg">2</text><line x1="299.1" y1="21.6" x2="308.2" y2="21.6" stroke="#d09890" stroke-width="1"/><text x="309.1" y="22.65" class="lg">3</text><line x1="299.1" y1="26.2" x2="308.2" y2="26.2" stroke="#80c0a0" stroke-width="1"/><text x="309.1" y="27.25" class="lg">4</text></g>
<g><rect x="433.65" y="2.5" width="101.45" height="98.5" fill="none" stroke="#4a4a4a" stroke-width="1.1"/><text x="429.95" y="103.05" text-anchor="end" class="tk" textLength="2.3" lengthAdjust="spacingAndGlyphs">0</text><text x="429.95" y="83.35" text-anchor="end" class="tk" textLength="2.3" lengthAdjust="spacingAndGlyphs">9</text><text x="429.95" y="63.65" text-anchor="end" class="tk" textLength="4.6" lengthAdjust="spacingAndGlyphs">18</text><text x="429.95" y="43.95" text-anchor="end" class="tk" textLength="4.6" lengthAdjust="spacingAndGlyphs">27</text><text x="429.95" y="24.25" text-anchor="end" class="tk" textLength="4.6" lengthAdjust="spacingAndGlyphs">36</text><text x="429.95" y="4.55" text-anchor="end" class="tk" textLength="4.6" lengthAdjust="spacingAndGlyphs">45</text><text x="433.65" y="110.24" text-anchor="middle" class="tk" textLength="2.3" lengthAdjust="spacingAndGlyphs">0</text><text x="459.01" y="110.24" text-anchor="middle" class="tk" textLength="4.6" lengthAdjust="spacingAndGlyphs">10</text><text x="484.38" y="110.24" text-anchor="middle" class="tk" textLength="4.6" lengthAdjust="spacingAndGlyphs">20</text><text x="509.74" y="110.24" text-anchor="middle" class="tk" textLength="4.6" lengthAdjust="spacingAndGlyphs">30</text><text x="535.1" y="110.24" text-anchor="middle" class="tk" textLength="4.6" lengthAdjust="spacingAndGlyphs">40</text><text x="484.38" y="115.78" text-anchor="middle" class="al">Time, hr</text><text transform="translate(421.66 51.75) rotate(-90)" x="0" y="0" text-anchor="middle" class="yl">Creep strain, %</text><text x="486.7" y="14.48" class="ti" textLength="37.2" lengthAdjust="spacing">(d) 68 MPa</text><path d="M433.5 101.1 L433.91 100.39 L434.46 100.05 L435.01 99.71 L435.57 99.37 L436.12 99.03 L436.69 98.69 L437.25 98.36 L437.82 98.02 L438.38 97.69 L438.96 97.36 L439.53 97.02 L440.1 96.69 L440.68 96.37 L441.26 96.04 L441.84 95.71 L442.42 95.38 L443.01 95.06 L443.59 94.73 L444.18 94.41 L444.77 94.08 L445.36 93.76 L445.95 93.44 L446.54 93.11 L447.14 92.79 L447.73 92.47 L448.32 92.15 L448.92 91.82 L449.52 91.5 L450.12 91.18 L450.71 90.86 L451.31 90.53 L451.91 90.21 L452.51 89.89 L453.11 89.56 L453.71 89.24 L454.31 88.91 L454.91 88.59 L455.51 88.26 L456.11 87.94 L456.71 87.61 L457.31 87.28 L457.91 86.95 L458.5 86.62 L459.1 86.29 L459.7 85.96 L460.29 85.62 L460.89 85.29 L461.48 84.95 L462.08 84.61 L462.67 84.27 L463.26 83.93 L463.85 83.59 L464.44 83.25 L465.02 82.9 L465.61 82.55 L466.19 82.21 L466.77 81.85 L467.36 81.5 L467.93 81.15 L468.51 80.79 L469.09 80.43 L469.66 80.07 L470.23 79.7 L470.8 79.34 L471.36 78.97 L471.93 78.59 L472.49 78.22 L473.04 77.84 L473.6 77.46 L474.15 77.08 L474.7 76.7 L475.25 76.31 L475.79 75.92 L476.33 75.52 L476.87 75.13 L477.41 74.73 L477.94 74.32 L478.47 73.92 L478.99 73.51 L479.51 73.09 L480.03 72.68 L480.54 72.25 L481.05 71.83 L481.56 71.4 L482.06 70.97 L482.56 70.53 L483.05 70.09 L483.54 69.65 L484.02 69.2 L484.5 68.75 L484.98 68.3 L485.45 67.84 L485.92 67.37 L486.38 66.9 L486.83 66.43 L487.29 65.95 L487.73 65.47 L488.18 64.98 L488.61 64.49 L489.05 64 L489.47 63.5 L489.9 63 L490.31 62.49 L490.73 61.98 L491.14 61.47 L491.54 60.95 L491.94 60.42 L492.33 59.9 L492.72 59.37 L493.1 58.83 L493.48 58.29 L493.85 57.75 L494.22 57.2 L494.58 56.65 L494.94 56.1 L495.29 55.54 L495.64 54.98 L495.98 54.42 L496.32 53.85 L496.65 53.28 L496.98 52.71 L497.3 52.13 L497.62 51.55 L497.93 50.97 L498.23 50.38 L498.53 49.79 L498.83 49.19 L499.12 48.6 L499.4 48 L499.68 47.39 L499.96 46.79 L500.23 46.18 L500.49 45.56 L500.75 44.95 L501 44.33 L501.25 43.71 L501.49 43.09 L501.73 42.46 L501.96 41.83 L502.19 41.2 L502.41 40.56 L502.62 39.93 L502.83 39.29 L503.03 38.64 L503.23 38 L503.43 37.35 L503.61 36.7 L503.79 36.05 L503.97 35.39 L504.14 34.74 L504.31 34.08 L504.47 33.42 L504.62 32.75 L504.77 32.09 L504.91 31.42 L505.05 30.75 L505.18 30.08 L505.3 29.4 L505.42 28.73 L505.54 28.05 L505.65 27.37 L505.75 26.69 L505.85 26 L505.94 25.32 L506.02 24.63 L506.1 23.94 L506.18 23.25 L506.24 22.56 L506.31 21.87 L506.36 21.17 L506.41 20.47 L506.46 19.78 L506.5 19.08 L506.53 18.37 L506.56 17.67 L506.58 16.97 L506.59 16.26 L506.6 15.56 L506.6 14.85 L506.6 14.14 L506.59 13.43 L506.8 13" fill="none" stroke="#bc6c64" stroke-width="1.05" stroke-linejoin="round"/><path d="M433.5 101.1 L434.13 100.74 L434.67 100.37 L435.22 99.99 L435.77 99.62 L436.33 99.25 L436.88 98.89 L437.44 98.53 L438 98.17 L438.57 97.81 L439.14 97.46 L439.71 97.11 L440.28 96.77 L440.85 96.43 L441.43 96.09 L442.01 95.75 L442.59 95.41 L443.18 95.08 L443.76 94.75 L444.35 94.42 L444.94 94.1 L445.53 93.77 L446.13 93.45 L446.72 93.13 L447.32 92.82 L447.92 92.5 L448.52 92.18 L449.12 91.87 L449.72 91.56 L450.33 91.25 L450.93 90.94 L451.54 90.64 L452.14 90.33 L452.75 90.02 L453.36 89.72 L453.97 89.42 L454.58 89.11 L455.19 88.81 L455.8 88.51 L456.42 88.21 L457.03 87.91 L457.64 87.61 L458.25 87.31 L458.87 87.01 L459.48 86.71 L460.09 86.41 L460.71 86.11 L461.32 85.81 L461.93 85.51 L462.54 85.21 L463.16 84.91 L463.77 84.6 L464.38 84.3 L464.99 84 L465.6 83.69 L466.21 83.39 L466.82 83.08 L467.43 82.77 L468.03 82.46 L468.64 82.15 L469.24 81.84 L469.85 81.53 L470.45 81.22 L471.05 80.9 L471.65 80.58 L472.25 80.26 L472.84 79.94 L473.44 79.62 L474.03 79.29 L474.62 78.96 L475.21 78.63 L475.8 78.3 L476.39 77.97 L476.97 77.63 L477.55 77.29 L478.13 76.94 L478.71 76.6 L479.28 76.25 L479.85 75.9 L480.42 75.54 L480.99 75.19 L481.55 74.82 L482.11 74.46 L482.67 74.09 L483.23 73.72 L483.78 73.34 L484.33 72.97 L484.88 72.58 L485.42 72.2 L485.96 71.81 L486.5 71.41 L487.03 71.01 L487.56 70.61 L488.08 70.2 L488.61 69.79 L489.12 69.37 L489.64 68.95 L490.15 68.53 L490.66 68.09 L491.16 67.66 L491.66 67.22 L492.15 66.77 L492.64 66.32 L493.13 65.87 L493.61 65.4 L494.09 64.94 L494.56 64.47 L495.03 63.99 L495.49 63.5 L495.95 63.01 L496.4 62.52 L496.85 62.02 L497.29 61.51 L497.73 61 L498.17 60.48 L498.59 59.95 L499.02 59.42 L499.43 58.88 L499.85 58.34 L500.25 57.78 L500.65 57.22 L501.05 56.66 L501.44 56.09 L501.82 55.51 L502.2 54.92 L502.57 54.32 L502.93 53.72 L503.29 53.11 L503.5 52.5 L504.8 50.5 L506.8 49.3" fill="none" stroke="#5caa80" stroke-width="1.05" stroke-linejoin="round"/><path d="M433.5 101.1 L434.07 100.52 L434.62 100.17 L435.18 99.83 L435.74 99.49 L436.3 99.15 L436.86 98.82 L437.43 98.49 L438 98.16 L438.57 97.84 L439.15 97.52 L439.73 97.2 L440.31 96.89 L440.89 96.58 L441.47 96.27 L442.06 95.96 L442.65 95.66 L443.24 95.36 L443.84 95.06 L444.43 94.76 L445.03 94.47 L445.63 94.17 L446.23 93.88 L446.83 93.6 L447.44 93.31 L448.04 93.02 L448.65 92.74 L449.26 92.46 L449.87 92.18 L450.48 91.9 L451.1 91.62 L451.71 91.35 L452.32 91.07 L452.94 90.8 L453.56 90.52 L454.18 90.25 L454.79 89.98 L455.41 89.71 L456.03 89.44 L456.66 89.17 L457.28 88.9 L457.9 88.63 L458.52 88.36 L459.14 88.09 L459.77 87.82 L460.39 87.55 L461.01 87.28 L461.63 87.01 L462.26 86.74 L462.88 86.47 L463.5 86.2 L464.12 85.92 L464.75 85.65 L465.37 85.38 L465.99 85.1 L466.61 84.83 L467.23 84.55 L467.85 84.27 L468.47 83.99 L469.09 83.71 L469.7 83.43 L470.32 83.15 L470.93 82.86 L471.55 82.57 L472.16 82.29 L472.77 82 L473.38 81.7 L473.99 81.41 L474.6 81.11 L475.2 80.81 L475.81 80.51 L476.41 80.21 L477.01 79.9 L477.61 79.59 L478.21 79.28 L478.8 78.96 L479.4 78.64 L479.99 78.32 L480.58 78 L481.16 77.67 L481.75 77.34 L482.33 77.01 L482.91 76.67 L483.49 76.33 L484.06 75.98 L484.63 75.64 L485.2 75.28 L485.77 74.93 L486.33 74.57 L486.89 74.2 L487.45 73.84 L488.01 73.47 L488.56 73.09 L489.11 72.71 L489.65 72.33 L490.2 71.94 L490.74 71.55 L491.27 71.16 L491.81 70.76 L492.34 70.36 L492.86 69.95 L493.38 69.54 L493.9 69.13 L494.42 68.71 L494.93 68.29 L495.44 67.86 L495.95 67.44 L496.45 67 L496.95 66.57 L497.44 66.13 L497.93 65.68 L498.42 65.24 L498.9 64.79 L499.38 64.33 L499.85 63.87 L500.32 63.41 L500.79 62.94 L501.25 62.47 L501.71 62 L502.16 61.52 L502.61 61.04 L503.05 60.56 L503.49 60.07 L503.93 59.58 L504.36 59.08 L504.79 58.58 L505.21 58.08 L505.63 57.58 L506.04 57.07 L506.45 56.55 L506.85 56.03 L507.25 55.51 L507.65 54.99 L508.03 54.46 L508.42 53.93 L508.8 53.39 L509.17 52.85 L509.54 52.31 L509.9 51.76 L510.26 51.21 L510.62 50.66 L510.96 50.1 L511.31 49.54 L511.64 48.98 L511.98 48.41 L512.3 47.84 L512.62 47.27 L512.94 46.69 L513.25 46.11 L513.55 45.52 L513.85 44.93 L514.14 44.34 L514.43 43.74 L514.71 43.14 L514.98 42.54 L515.25 41.93 L515.52 41.32 L515.77 40.71 L516.02 40.09 L516.27 39.47 L516.51 38.85 L516.74 38.22 L516.97 37.59 L517.19 36.95 L517.4 36.32 L517.61 35.67 L517.81 35.03 L518 34.38 L518.19 33.73 L518.37 33.07 L518.54 32.42 L518.71 31.75 L518.87 31.09 L519.03 30.42 L519.17 29.75 L519.32 29.07 L519.45 28.39 L519.58 27.71 L519.69 27.02 L519.81 26.34 L519.91 25.64 L520.01 24.95 L520.1 24.25 L520.19 23.55 L520.26 22.84 L520.33 22.13 L520.39 21.42 L520.45 20.7 L520.49 19.98 L520.53 19.26 L520.57 18.53 L520.59 17.8 L520.61 17.07 L520.62 16.34 L520.7 16" fill="none" stroke="#d878d6" stroke-width="1.05" stroke-linejoin="round"/><path d="M433.5 101.1 L434.11 100.84 L434.7 100.54 L435.3 100.24 L435.89 99.94 L436.49 99.63 L437.08 99.31 L437.67 98.99 L438.26 98.66 L438.85 98.34 L439.44 98.01 L440.03 97.67 L440.62 97.34 L441.21 97 L441.8 96.67 L442.39 96.33 L442.98 96 L443.57 95.67 L444.16 95.33 L444.76 95.01 L445.35 94.68 L445.95 94.36 L446.55 94.04 L447.15 93.73 L447.75 93.42 L448.35 93.12 L448.96 92.82 L449.56 92.53 L450.18 92.25 L450.79 91.98 L451.4 91.71 L452.02 91.46 L452.65 91.21 L453.27 90.98 L453.9 90.76 L454.53 90.55 L455.17 90.35 L455.81 90.16 L456.46 89.99 L457.11 89.83 L457.76 89.68 L458.42 89.55 L459.08 89.43 L459.74 89.31 L460.41 89.2 L461.07 89.1 L461.74 89 L462.41 88.91 L463.07 88.81 L463.74 88.71 L464.41 88.6 L465.07 88.49 L465.73 88.37 L466.39 88.24 L467.04 88.1 L467.69 87.95 L468.34 87.79 L468.98 87.61 L469.62 87.43 L470.25 87.23 L470.88 87.02 L471.51 86.81 L472.14 86.59 L472.76 86.35 L473.38 86.11 L474 85.86 L474.62 85.61 L475.23 85.35 L475.85 85.08 L476.46 84.81 L477.07 84.53 L477.67 84.24 L478.28 83.95 L478.88 83.66 L479.49 83.37 L480.09 83.07 L480.69 82.76 L481.29 82.46 L481.9 82.16 L482.5 81.85 L483.1 81.54 L483.7 81.23 L484.3 80.92 L484.9 80.62 L485.5 80.31 L486.1 80 L486.71 79.7 L487.31 79.4 L487.91 79.1 L488.52 78.8 L489.12 78.5 L489.73 78.21 L490.34 77.92 L490.94 77.62 L491.55 77.33 L492.16 77.04 L492.77 76.75 L493.37 76.47 L493.98 76.18 L494.59 75.89 L495.19 75.6 L495.8 75.31 L496.4 75.01 L497.01 74.72 L497.61 74.43 L498.21 74.13 L498.8 73.8" fill="none" stroke="#7674c0" stroke-width="1.05" stroke-linejoin="round"/><line x1="438.3" y1="11.9" x2="446.7" y2="11.9" stroke="#a8a8dc" stroke-width="1"/><text x="447.6" y="12.95" class="lg">1</text><line x1="438.3" y1="16.3" x2="446.7" y2="16.3" stroke="#80c0a0" stroke-width="1"/><text x="447.6" y="17.35" class="lg">2</text><line x1="438.3" y1="20.8" x2="446.7" y2="20.8" stroke="#e8a0e0" stroke-width="1"/><text x="447.6" y="21.85" class="lg">3</text><line x1="438.3" y1="25.4" x2="446.7" y2="25.4" stroke="#d09890" stroke-width="1"/><text x="447.6" y="26.45" class="lg">4</text></g>
<g><rect x="16.1" y="134.1" width="105" height="98.9" fill="none" stroke="#4a4a4a" stroke-width="1.1"/><text x="12.4" y="235.05" text-anchor="end" class="tk" textLength="2.3" lengthAdjust="spacingAndGlyphs">0</text><text x="12.4" y="218.57" text-anchor="end" class="tk" textLength="4.6" lengthAdjust="spacingAndGlyphs">10</text><text x="12.4" y="202.08" text-anchor="end" class="tk" textLength="4.6" lengthAdjust="spacingAndGlyphs">20</text><text x="12.4" y="185.6" text-anchor="end" class="tk" textLength="4.6" lengthAdjust="spacingAndGlyphs">30</text><text x="12.4" y="169.12" text-anchor="end" class="tk" textLength="4.6" lengthAdjust="spacingAndGlyphs">40</text><text x="12.4" y="152.63" text-anchor="end" class="tk" textLength="4.6" lengthAdjust="spacingAndGlyphs">50</text><text x="12.4" y="136.15" text-anchor="end" class="tk" textLength="4.6" lengthAdjust="spacingAndGlyphs">60</text><text x="16.1" y="242.24" text-anchor="middle" class="tk" textLength="2.3" lengthAdjust="spacingAndGlyphs">0</text><text x="37.1" y="242.24" text-anchor="middle" class="tk" textLength="4.6" lengthAdjust="spacingAndGlyphs">50</text><text x="58.1" y="242.24" text-anchor="middle" class="tk" textLength="6.9" lengthAdjust="spacingAndGlyphs">100</text><text x="79.1" y="242.24" text-anchor="middle" class="tk" textLength="6.9" lengthAdjust="spacingAndGlyphs">150</text><text x="100.1" y="242.24" text-anchor="middle" class="tk" textLength="6.9" lengthAdjust="spacingAndGlyphs">200</text><text x="121.1" y="242.24" text-anchor="middle" class="tk" textLength="6.9" lengthAdjust="spacingAndGlyphs">250</text><text x="68.6" y="250.88" text-anchor="middle" class="al">Time, hr</text><text transform="translate(4.11 183.55) rotate(-90)" x="0" y="0" text-anchor="middle" class="yl">Creep strain, %</text><text x="77.5" y="149.28" class="ti" textLength="36.6" lengthAdjust="spacing">(e) 50 MPa</text><path d="M16.7 232.7 L17.48 232.48 L18 232.15 L18.53 231.82 L19.06 231.5 L19.6 231.19 L20.15 230.87 L20.7 230.56 L21.25 230.26 L21.81 229.95 L22.38 229.65 L22.95 229.36 L23.53 229.06 L24.11 228.77 L24.69 228.48 L25.28 228.19 L25.87 227.91 L26.47 227.63 L27.07 227.35 L27.68 227.07 L28.28 226.8 L28.9 226.52 L29.51 226.25 L30.13 225.98 L30.75 225.71 L31.37 225.44 L32 225.18 L32.63 224.91 L33.26 224.65 L33.89 224.38 L34.52 224.12 L35.16 223.86 L35.8 223.59 L36.44 223.33 L37.08 223.07 L37.72 222.81 L38.36 222.55 L39.01 222.28 L39.65 222.02 L40.29 221.76 L40.94 221.49 L41.59 221.23 L42.23 220.97 L42.88 220.7 L43.52 220.43 L44.16 220.16 L44.81 219.9 L45.45 219.62 L46.09 219.35 L46.73 219.08 L47.37 218.8 L48.01 218.52 L48.65 218.24 L49.28 217.96 L49.92 217.68 L50.55 217.39 L51.18 217.1 L51.8 216.81 L52.43 216.51 L53.05 216.22 L53.67 215.92 L54.28 215.61 L54.89 215.3 L55.5 214.99 L56.11 214.68 L56.71 214.36 L57.31 214.04 L57.9 213.71 L58.49 213.38 L59.08 213.05 L59.66 212.71 L60.23 212.37 L60.81 212.02 L61.37 211.67 L61.94 211.31 L62.49 210.95 L63.04 210.58 L63.59 210.21 L64.13 209.84 L64.66 209.45 L65.19 209.07 L65.71 208.67 L66.23 208.27 L66.74 207.87 L67.24 207.46 L67.74 207.04 L68.23 206.61 L68.71 206.18 L69.18 205.75 L69.65 205.3 L70.11 204.85 L70.56 204.4 L71 203.93 L71.44 203.46 L71.87 202.98 L72.29 202.5 L72.7 202 L73.1 201.5 L73.49 200.99 L73.87 200.48 L74.25 199.95 L74.61 199.42 L74.97 198.88 L75.32 198.33 L75.65 197.77 L75.98 197.21 L76.29 196.63 L76.6 196.05 L76.89 195.45 L77.18 194.85 L77.45 194.24 L77.72 193.62 L77.97 192.99 L78.21 192.35 L78.44 191.7 L78.66 191.04 L78.86 190.37 L79.06 189.69 L79.24 189 L79.41 188.3 L79.57 187.59 L79.3 186.8 L79.9 174.9" fill="none" stroke="#5caa80" stroke-width="1.05" stroke-linejoin="round"/><path d="M16.7 232.7 L17.19 232.13 L17.8 231.91 L18.41 231.68 L19.03 231.46 L19.64 231.24 L20.26 231.01 L20.88 230.79 L21.5 230.56 L22.13 230.33 L22.75 230.1 L23.37 229.87 L24 229.64 L24.63 229.41 L25.25 229.17 L25.88 228.94 L26.51 228.7 L27.14 228.46 L27.77 228.22 L28.4 227.98 L29.03 227.74 L29.66 227.49 L30.3 227.25 L30.93 227 L31.56 226.75 L32.19 226.5 L32.83 226.24 L33.46 225.99 L34.09 225.73 L34.72 225.47 L35.35 225.21 L35.99 224.95 L36.62 224.69 L37.25 224.42 L37.88 224.15 L38.51 223.88 L39.14 223.61 L39.77 223.33 L40.39 223.06 L41.02 222.78 L41.65 222.5 L42.27 222.21 L42.9 221.93 L43.52 221.64 L44.14 221.35 L44.76 221.06 L45.38 220.76 L46 220.46 L46.61 220.16 L47.23 219.86 L47.84 219.55 L48.45 219.24 L49.06 218.93 L49.67 218.62 L50.27 218.3 L50.88 217.98 L51.48 217.66 L52.08 217.33 L52.67 217.01 L53.27 216.67 L53.86 216.34 L54.45 216 L55.04 215.66 L55.62 215.32 L56.21 214.97 L56.78 214.62 L57.36 214.27 L57.94 213.91 L58.51 213.55 L59.08 213.19 L59.64 212.83 L60.2 212.46 L60.76 212.08 L61.32 211.71 L61.87 211.33 L62.42 210.94 L62.96 210.56 L63.51 210.17 L64.04 209.77 L64.58 209.37 L65.11 208.97 L65.64 208.57 L66.16 208.16 L66.68 207.75 L67.19 207.33 L67.71 206.91 L68.21 206.48 L68.71 206.05 L69.21 205.62 L69.71 205.19 L70.2 204.74 L70.68 204.3 L71.16 203.85 L71.64 203.4 L72.11 202.94 L72.58 202.48 L73.04 202.01 L73.49 201.54 L73.95 201.07 L74.39 200.59 L74.83 200.11 L75.27 199.62 L75.7 199.13 L76.13 198.63 L76.55 198.13 L76.96 197.62 L77.37 197.11 L77.77 196.59 L78.17 196.07 L78.56 195.55 L78.95 195.02 L79.33 194.48 L79.7 193.95 L80.07 193.4 L80.44 192.85 L80.79 192.3 L81.15 191.75 L81.49 191.19 L81.83 190.62 L82.17 190.05 L82.5 189.48 L82.82 188.9 L83.14 188.32 L83.46 187.74 L83.76 187.15 L84.07 186.56 L84.36 185.97 L84.66 185.37 L84.94 184.77 L85.22 184.16 L85.5 183.55 L85.77 182.94 L86.04 182.33 L86.3 181.71 L86.55 181.09 L86.8 180.46 L87.05 179.83 L87.28 179.2 L87.52 178.57 L87.75 177.94 L87.97 177.3 L88.19 176.66 L88.4 176.01 L88.61 175.37 L88.82 174.72 L89.01 174.07 L89.21 173.42 L89.39 172.76 L89.58 172.11 L89.76 171.45 L89.93 170.79 L90.1 170.12 L90.26 169.46 L90.42 168.79 L90.57 168.12 L90.72 167.45 L90.87 166.78 L91.01 166.11 L91.14 165.43 L91.27 164.76 L91.4 164.08 L91.52 163.4 L91.63 162.72 L91.74 162.04 L91.85 161.36 L91.95 160.68 L92.05 159.99 L92.14 159.31 L92.23 158.62 L92.31 157.93 L92.39 157.25 L92.46 156.56 L92.53 155.87 L92.59 155.18 L92.65 154.49 L92.71 153.8 L92.76 153.11 L92.81 152.42 L92.85 151.73 L92.89 151.04 L92.92 150.35 L92.95 149.66 L92.98 148.97 L93 148.28 L93.01 147.6 L93.03 146.91 L93.4 146.5" fill="none" stroke="#7674c0" stroke-width="1.05" stroke-linejoin="round"/><path d="M16.7 232.7 L17.51 232.44 L18.09 232.21 L18.67 231.98 L19.25 231.76 L19.83 231.54 L20.42 231.31 L21.02 231.09 L21.61 230.88 L22.21 230.66 L22.81 230.44 L23.42 230.23 L24.03 230.01 L24.64 229.8 L25.25 229.59 L25.87 229.38 L26.49 229.17 L27.11 228.96 L27.73 228.75 L28.36 228.54 L28.99 228.33 L29.62 228.13 L30.26 227.92 L30.89 227.71 L31.53 227.51 L32.17 227.3 L32.81 227.1 L33.45 226.89 L34.1 226.68 L34.74 226.48 L35.39 226.27 L36.04 226.07 L36.69 225.86 L37.34 225.65 L37.99 225.45 L38.64 225.24 L39.29 225.03 L39.95 224.82 L40.6 224.61 L41.26 224.4 L41.92 224.19 L42.57 223.98 L43.23 223.77 L43.89 223.55 L44.55 223.34 L45.2 223.12 L45.86 222.9 L46.52 222.69 L47.18 222.47 L47.83 222.24 L48.49 222.02 L49.15 221.8 L49.8 221.57 L50.46 221.34 L51.11 221.11 L51.77 220.88 L52.42 220.65 L53.07 220.41 L53.72 220.17 L54.37 219.93 L55.02 219.69 L55.67 219.45 L56.32 219.2 L56.96 218.95 L57.6 218.7 L58.24 218.45 L58.88 218.19 L59.52 217.93 L60.16 217.67 L60.79 217.4 L61.42 217.14 L62.05 216.87 L62.68 216.59 L63.31 216.32 L63.93 216.04 L64.55 215.75 L65.17 215.47 L65.78 215.18 L66.39 214.88 L67 214.59 L67.61 214.29 L68.21 213.98 L68.81 213.68 L69.41 213.36 L70 213.05 L70.59 212.73 L71.18 212.41 L71.76 212.08 L72.34 211.75 L72.92 211.41 L73.49 211.07 L74.06 210.73 L74.62 210.38 L75.18 210.03 L75.74 209.67 L76.29 209.31 L76.84 208.94 L77.38 208.57 L77.92 208.2 L78.45 207.82 L78.98 207.43 L79.51 207.04 L80.02 206.64 L80.54 206.24 L81.05 205.84 L81.55 205.42 L82.05 205.01 L82.55 204.58 L83.03 204.16 L83.52 203.72 L83.99 203.28 L84.47 202.84 L84.93 202.39 L85.39 201.93 L85.85 201.47 L86.29 201 L86.74 200.53 L87.17 200.05 L87.6 199.56 L88.02 199.07 L88.44 198.57 L88.85 198.07 L89.25 197.55 L89.65 197.04 L90.04 196.51 L90.42 195.98 L90.8 195.44 L91.17 194.9 L91.53 194.34 L91.89 193.79 L92.23 193.22 L92.58 192.65 L92.91 192.07 L93.23 191.48 L93.55 190.89 L93.86 190.28 L94.16 189.68 L94.46 189.06 L94.74 188.44 L95.02 187.8 L95.29 187.16 L95.55 186.52 L95.8 185.86 L96.05 185.2 L96.28 184.53 L96.51 183.85 L96.73 183.16 L96.94 182.47 L97.14 181.76 L97.33 181.05 L97.52 180.33 L97.69 179.61 L97.86 178.87 L98.01 178.12 L98.16 177.37 L98.1 177 L98.7 160.8" fill="none" stroke="#bc6c64" stroke-width="1.05" stroke-linejoin="round"/><path d="M16.7 232.7 L17.57 232.61 L18.16 232.38 L18.75 232.16 L19.34 231.94 L19.94 231.72 L20.54 231.5 L21.15 231.29 L21.75 231.07 L22.36 230.86 L22.98 230.65 L23.59 230.45 L24.21 230.24 L24.83 230.04 L25.45 229.84 L26.07 229.64 L26.7 229.44 L27.33 229.25 L27.96 229.05 L28.59 228.86 L29.22 228.67 L29.86 228.48 L30.5 228.29 L31.13 228.1 L31.78 227.91 L32.42 227.73 L33.06 227.54 L33.71 227.36 L34.36 227.17 L35.01 226.99 L35.66 226.81 L36.31 226.63 L36.96 226.44 L37.62 226.26 L38.27 226.08 L38.93 225.9 L39.58 225.72 L40.24 225.54 L40.9 225.36 L41.56 225.18 L42.22 225 L42.88 224.82 L43.55 224.64 L44.21 224.46 L44.87 224.28 L45.54 224.1 L46.2 223.92 L46.87 223.74 L47.53 223.56 L48.2 223.37 L48.86 223.19 L49.53 223 L50.19 222.82 L50.86 222.63 L51.52 222.44 L52.19 222.26 L52.86 222.07 L53.52 221.87 L54.19 221.68 L54.85 221.49 L55.51 221.29 L56.18 221.1 L56.84 220.9 L57.5 220.7 L58.17 220.5 L58.83 220.29 L59.49 220.09 L60.15 219.88 L60.81 219.67 L61.47 219.46 L62.12 219.24 L62.78 219.03 L63.43 218.81 L64.09 218.59 L64.74 218.37 L65.39 218.14 L66.04 217.91 L66.69 217.68 L67.34 217.45 L67.98 217.21 L68.63 216.97 L69.27 216.73 L69.91 216.49 L70.55 216.24 L71.18 215.99 L71.82 215.73 L72.45 215.48 L73.08 215.22 L73.71 214.95 L74.34 214.68 L74.97 214.41 L75.59 214.14 L76.21 213.86 L76.82 213.57 L77.44 213.29 L78.05 213 L78.65 212.7 L79.26 212.4 L79.85 212.1 L80.45 211.79 L81.04 211.47 L81.63 211.15 L82.21 210.83 L82.79 210.5 L83.36 210.17 L83.93 209.83 L84.49 209.48 L85.05 209.13 L85.61 208.78 L86.15 208.42 L86.7 208.05 L87.23 207.68 L87.76 207.3 L88.29 206.91 L88.8 206.52 L89.32 206.12 L89.82 205.72 L90.32 205.31 L90.81 204.89 L91.29 204.47 L91.77 204.03 L92.24 203.6 L92.7 203.15 L93.16 202.7 L93.6 202.24 L94.04 201.77 L94.47 201.3 L94.89 200.81 L95.3 200.32 L95.71 199.82 L96.1 199.32 L96.49 198.8 L96.87 198.28 L97.24 197.75 L97.59 197.21 L97.94 196.66 L98.28 196.11 L98.61 195.54 L98.93 194.97 L99.24 194.38 L99.54 193.79 L99.82 193.19 L100.1 192.58 L100.37 191.96 L100.62 191.33 L100.86 190.69 L101.1 190.04 L101.32 189.38 L101.53 188.72 L101.72 188.04 L101.91 187.35 L102.08 186.65 L102.24 185.94 L102.39 185.22 L102.52 184.49 L102.64 183.75 L102.3 183" fill="none" stroke="#d878d6" stroke-width="1.05" stroke-linejoin="round"/><line x1="20" y1="138.3" x2="28.5" y2="138.3" stroke="#a8a8dc" stroke-width="1"/><text x="29.4" y="139.35" class="lg">1</text><line x1="20" y1="142.7" x2="28.5" y2="142.7" stroke="#e8a0e0" stroke-width="1"/><text x="29.4" y="143.75" class="lg">2</text><line x1="20" y1="147.4" x2="28.5" y2="147.4" stroke="#80c0a0" stroke-width="1"/><text x="29.4" y="148.45" class="lg">3</text><line x1="20" y1="151.6" x2="28.5" y2="151.6" stroke="#d09890" stroke-width="1"/><text x="29.4" y="152.65" class="lg">4</text></g>
<g><rect x="158" y="133.6" width="102.3" height="96.85" fill="none" stroke="#4a4a4a" stroke-width="1.1"/><text x="154.3" y="232.5" text-anchor="end" class="tk" textLength="2.3" lengthAdjust="spacingAndGlyphs">0</text><text x="154.3" y="220.39" text-anchor="end" class="tk" textLength="2.3" lengthAdjust="spacingAndGlyphs">5</text><text x="154.3" y="208.29" text-anchor="end" class="tk" textLength="4.6" lengthAdjust="spacingAndGlyphs">10</text><text x="154.3" y="196.18" text-anchor="end" class="tk" textLength="4.6" lengthAdjust="spacingAndGlyphs">15</text><text x="154.3" y="184.07" text-anchor="end" class="tk" textLength="4.6" lengthAdjust="spacingAndGlyphs">20</text><text x="154.3" y="171.97" text-anchor="end" class="tk" textLength="4.6" lengthAdjust="spacingAndGlyphs">25</text><text x="154.3" y="159.86" text-anchor="end" class="tk" textLength="4.6" lengthAdjust="spacingAndGlyphs">30</text><text x="154.3" y="147.76" text-anchor="end" class="tk" textLength="4.6" lengthAdjust="spacingAndGlyphs">35</text><text x="154.3" y="135.65" text-anchor="end" class="tk" textLength="4.6" lengthAdjust="spacingAndGlyphs">40</text><text x="158" y="240.85" text-anchor="middle" class="tk" textLength="2.3" lengthAdjust="spacingAndGlyphs">0</text><text x="178.46" y="240.85" text-anchor="middle" class="tk" textLength="4.6" lengthAdjust="spacingAndGlyphs">20</text><text x="198.92" y="240.85" text-anchor="middle" class="tk" textLength="4.6" lengthAdjust="spacingAndGlyphs">40</text><text x="219.38" y="240.85" text-anchor="middle" class="tk" textLength="4.6" lengthAdjust="spacingAndGlyphs">60</text><text x="239.84" y="240.85" text-anchor="middle" class="tk" textLength="4.6" lengthAdjust="spacingAndGlyphs">80</text><text x="260.3" y="240.85" text-anchor="middle" class="tk" textLength="6.9" lengthAdjust="spacingAndGlyphs">100</text><text x="209.15" y="249.83" text-anchor="middle" class="al">Time, hr</text><text transform="translate(146.01 182.02) rotate(-90)" x="0" y="0" text-anchor="middle" class="yl">Creep strain, %</text><text x="212.3" y="148.58" class="ti" textLength="35.6" lengthAdjust="spacing">(f) 56 MPa</text><path d="M158.2 229.8 L158.73 229.36 L159.28 229 L159.82 228.64 L160.37 228.27 L160.92 227.91 L161.48 227.55 L162.04 227.2 L162.59 226.84 L163.15 226.48 L163.72 226.12 L164.28 225.76 L164.84 225.4 L165.41 225.05 L165.98 224.69 L166.55 224.33 L167.12 223.97 L167.69 223.62 L168.26 223.26 L168.84 222.9 L169.41 222.54 L169.99 222.18 L170.56 221.82 L171.14 221.46 L171.71 221.1 L172.29 220.74 L172.87 220.38 L173.45 220.01 L174.02 219.65 L174.6 219.29 L175.18 218.92 L175.75 218.55 L176.33 218.19 L176.91 217.82 L177.48 217.45 L178.06 217.08 L178.63 216.71 L179.21 216.33 L179.78 215.96 L180.35 215.58 L180.92 215.2 L181.49 214.82 L182.06 214.44 L182.63 214.06 L183.19 213.68 L183.76 213.29 L184.32 212.9 L184.88 212.51 L185.44 212.12 L186 211.73 L186.55 211.33 L187.11 210.93 L187.66 210.53 L188.21 210.13 L188.75 209.72 L189.3 209.32 L189.84 208.91 L190.37 208.49 L190.91 208.08 L191.44 207.66 L191.97 207.24 L192.5 206.82 L193.02 206.39 L193.54 205.96 L194.06 205.53 L194.57 205.1 L195.08 204.66 L195.59 204.22 L196.09 203.77 L196.59 203.33 L197.09 202.87 L197.58 202.42 L198.07 201.96 L198.55 201.5 L199.03 201.04 L199.5 200.57 L199.97 200.1 L200.44 199.62 L200.9 199.14 L201.35 198.66 L201.81 198.17 L202.25 197.68 L202.69 197.19 L203.13 196.69 L203.56 196.19 L203.99 195.68 L204.41 195.17 L204.82 194.65 L205.23 194.13 L205.63 193.61 L206.03 193.08 L206.42 192.54 L206.81 192.01 L207.19 191.46 L207.56 190.92 L207.93 190.36 L208.29 189.81 L208.64 189.24 L208.99 188.68 L209.33 188.1 L209.67 187.53 L210 186.95 L210.32 186.36 L210.63 185.77 L210.94 185.17 L211.24 184.56 L211.53 183.95 L211.81 183.34 L212.09 182.72 L212.36 182.1 L212.62 181.46 L212.88 180.83 L213.13 180.18 L213.36 179.54 L213.59 178.88 L213.82 178.22 L214.03 177.55 L214.24 176.88 L214.44 176.2 L214.62 175.52 L214.8 174.83 L214.98 174.13 L215.14 173.43 L215.4 172.9" fill="none" stroke="#bc6c64" stroke-width="1.05" stroke-linejoin="round"/><path d="M158.2 229.8 L158.78 229.41 L159.29 228.98 L159.81 228.56 L160.33 228.14 L160.85 227.73 L161.38 227.33 L161.92 226.93 L162.46 226.54 L163 226.15 L163.55 225.77 L164.1 225.39 L164.66 225.02 L165.22 224.66 L165.78 224.29 L166.35 223.94 L166.92 223.59 L167.5 223.24 L168.08 222.9 L168.66 222.56 L169.25 222.23 L169.84 221.9 L170.43 221.57 L171.03 221.25 L171.63 220.94 L172.23 220.62 L172.83 220.31 L173.44 220 L174.05 219.7 L174.66 219.39 L175.27 219.1 L175.89 218.8 L176.5 218.51 L177.12 218.21 L177.74 217.92 L178.37 217.64 L178.99 217.35 L179.62 217.07 L180.24 216.78 L180.87 216.5 L181.5 216.23 L182.13 215.95 L182.76 215.67 L183.39 215.39 L184.02 215.12 L184.65 214.84 L185.28 214.57 L185.91 214.3 L186.54 214.02 L187.18 213.75 L187.81 213.48 L188.44 213.2 L189.07 212.93 L189.7 212.65 L190.33 212.38 L190.96 212.1 L191.59 211.83 L192.21 211.55 L192.84 211.27 L193.46 210.99 L194.09 210.71 L194.71 210.42 L195.33 210.14 L195.95 209.85 L196.56 209.56 L197.18 209.27 L197.79 208.98 L198.4 208.68 L199.01 208.38 L199.61 208.08 L200.22 207.78 L200.82 207.47 L201.41 207.16 L202.01 206.85 L202.6 206.53 L203.19 206.21 L203.77 205.89 L204.36 205.56 L204.94 205.22 L205.51 204.89 L206.08 204.55 L206.65 204.2 L207.21 203.85 L207.77 203.5 L208.33 203.14 L208.88 202.77 L209.42 202.4 L209.97 202.03 L210.5 201.65 L211.04 201.26 L211.56 200.87 L212.09 200.48 L212.61 200.07 L213.12 199.66 L213.63 199.25 L214.13 198.83 L214.62 198.4 L215.11 197.96 L215.6 197.52 L216.08 197.07 L216.55 196.61 L217.02 196.15 L217.48 195.68 L217.93 195.2 L218.38 194.71 L218.82 194.22 L219.25 193.72 L219.68 193.21 L220.1 192.69 L220.51 192.16 L220.92 191.63 L221.32 191.08 L221.71 190.53 L222.09 189.97 L222.47 189.4 L222.84 188.82 L223.2 188.23 L223.55 187.63 L223.89 187.02 L224.23 186.4 L224.56 185.78 L224.87 185.14 L225.18 184.49 L225.49 183.83 L225.78 183.16 L226.06 182.48 L226.3 181.9" fill="none" stroke="#7674c0" stroke-width="1.05" stroke-linejoin="round"/><path d="M158.2 229.8 L158.83 229.51 L159.4 229.18 L159.97 228.87 L160.55 228.56 L161.13 228.25 L161.72 227.95 L162.31 227.65 L162.9 227.36 L163.5 227.08 L164.1 226.8 L164.71 226.52 L165.31 226.25 L165.92 225.98 L166.54 225.72 L167.16 225.46 L167.77 225.21 L168.4 224.96 L169.02 224.71 L169.65 224.46 L170.28 224.22 L170.91 223.99 L171.55 223.75 L172.18 223.52 L172.82 223.29 L173.46 223.06 L174.1 222.83 L174.75 222.61 L175.39 222.39 L176.04 222.17 L176.69 221.95 L177.33 221.73 L177.98 221.52 L178.63 221.3 L179.29 221.09 L179.94 220.87 L180.59 220.66 L181.24 220.45 L181.9 220.24 L182.55 220.02 L183.2 219.81 L183.86 219.6 L184.51 219.39 L185.16 219.17 L185.82 218.96 L186.47 218.74 L187.12 218.53 L187.77 218.31 L188.42 218.09 L189.07 217.87 L189.72 217.65 L190.37 217.42 L191.01 217.2 L191.66 216.97 L192.3 216.74 L192.94 216.5 L193.58 216.27 L194.22 216.03 L194.85 215.79 L195.49 215.54 L196.12 215.29 L196.75 215.04 L197.37 214.78 L198 214.52 L198.62 214.26 L199.24 213.99 L199.85 213.72 L200.46 213.44 L201.07 213.16 L201.68 212.88 L202.28 212.58 L202.88 212.29 L203.48 211.99 L204.07 211.68 L204.66 211.37 L205.24 211.05 L205.82 210.72 L206.4 210.39 L206.97 210.05 L207.53 209.71 L208.1 209.36 L208.65 209 L209.21 208.64 L209.75 208.27 L210.3 207.89 L210.83 207.51 L211.36 207.12 L211.89 206.72 L212.41 206.32 L212.92 205.91 L213.42 205.49 L213.92 205.07 L214.41 204.64 L214.9 204.2 L215.37 203.75 L215.84 203.3 L216.31 202.84 L216.76 202.37 L217.21 201.89 L217.64 201.41 L218.07 200.92 L218.49 200.42 L218.91 199.91 L219.31 199.4 L219.7 198.87 L220.09 198.34 L220.46 197.8 L220.83 197.26 L221.18 196.7 L221.53 196.14 L221.86 195.57 L222.19 194.99 L222.5 194.4 L222.81 193.81 L223.1 193.2 L223.38 192.59 L223.65 191.96 L223.91 191.33 L224.15 190.69 L224.39 190.05 L224.61 189.39 L224.82 188.72 L225.02 188.05 L225.2 187.36 L225.37 186.67 L225.53 185.97 L225.68 185.25 L225.81 184.53 L225.93 183.8 L226.03 183.06 L226.12 182.31 L226.2 181.7" fill="none" stroke="#5caa80" stroke-width="1.05" stroke-linejoin="round"/><path d="M158.2 229.8 L158.88 229.12 L159.45 228.89 L160.02 228.65 L160.59 228.41 L161.17 228.18 L161.75 227.95 L162.34 227.72 L162.92 227.48 L163.51 227.25 L164.11 227.03 L164.7 226.8 L165.3 226.57 L165.9 226.35 L166.5 226.12 L167.11 225.9 L167.71 225.67 L168.32 225.45 L168.93 225.23 L169.55 225.01 L170.16 224.78 L170.78 224.56 L171.4 224.34 L172.02 224.12 L172.65 223.91 L173.27 223.69 L173.9 223.47 L174.53 223.25 L175.16 223.03 L175.79 222.81 L176.43 222.59 L177.06 222.37 L177.7 222.16 L178.34 221.94 L178.97 221.72 L179.61 221.5 L180.26 221.28 L180.9 221.06 L181.54 220.84 L182.19 220.62 L182.83 220.4 L183.48 220.18 L184.12 219.96 L184.77 219.74 L185.42 219.52 L186.07 219.29 L186.72 219.07 L187.36 218.84 L188.01 218.62 L188.66 218.39 L189.31 218.17 L189.96 217.94 L190.62 217.71 L191.27 217.48 L191.92 217.25 L192.57 217.01 L193.22 216.78 L193.87 216.55 L194.52 216.31 L195.17 216.07 L195.82 215.83 L196.47 215.59 L197.11 215.35 L197.76 215.11 L198.41 214.86 L199.06 214.62 L199.7 214.37 L200.35 214.12 L200.99 213.87 L201.63 213.61 L202.28 213.36 L202.92 213.1 L203.56 212.84 L204.19 212.58 L204.83 212.32 L205.47 212.05 L206.1 211.78 L206.74 211.51 L207.37 211.24 L208 210.97 L208.63 210.69 L209.26 210.41 L209.88 210.13 L210.5 209.85 L211.13 209.56 L211.75 209.27 L212.36 208.98 L212.98 208.69 L213.59 208.39 L214.21 208.09 L214.81 207.79 L215.42 207.48 L216.03 207.17 L216.63 206.86 L217.23 206.55 L217.83 206.23 L218.42 205.91 L219.01 205.58 L219.6 205.26 L220.19 204.93 L220.77 204.59 L221.35 204.26 L221.93 203.92 L222.51 203.57 L223.08 203.23 L223.65 202.88 L224.21 202.52 L224.77 202.16 L225.33 201.8 L225.89 201.44 L226.44 201.07 L226.99 200.69 L227.53 200.32 L228.08 199.94 L228.61 199.55 L229.15 199.16 L229.68 198.77 L230.2 198.37 L230.72 197.97 L231.24 197.57 L231.76 197.16 L232.27 196.74 L232.77 196.32 L233.27 195.9 L233.77 195.47 L234.26 195.04 L234.75 194.61 L235.24 194.17 L235.71 193.72 L236.19 193.27 L236.66 192.81 L237.12 192.36 L237.58 191.89 L238.04 191.42 L238.49 190.95 L238.94 190.47 L239.38 189.98 L239.81 189.5 L240.24 189 L240.67 188.5 L241.09 188 L241.5 187.49 L241.91 186.98 L242.32 186.47 L242.71 185.95 L243.11 185.42 L243.5 184.89 L243.88 184.36 L244.25 183.82 L244.62 183.28 L244.99 182.73 L245.35 182.18 L245.7 181.63 L246.05 181.07 L246.39 180.5 L246.73 179.94 L247.06 179.37 L247.38 178.79 L247.7 178.21 L248.01 177.63 L248.31 177.04 L248.61 176.45 L248.91 175.86 L249.19 175.26 L249.47 174.66 L249.75 174.06 L250.01 173.45 L250.27 172.83 L250.53 172.22 L250.77 171.6 L251.01 170.98 L251.25 170.35 L251.48 169.72 L251.7 169.09 L251.91 168.45 L252.11 167.81 L252.31 167.17 L252.51 166.53 L252.69 165.88 L252.87 165.23 L253.04 164.57 L253.2 163.91 L253.36 163.25 L253.51 162.59 L253.65 161.92 L253.78 161.25 L253.91 160.58 L254.03 159.91 L254.14 159.23 L254.24 158.55 L254.34 157.87 L254.43 157.18 L254.51 156.49 L254.58 155.8 L254.65 155.11 L254.7 154.41 L254.75 153.71 L254.79 153.01 L254.83 152.31 L254.85 151.61 L254.87 150.9 L254.88 150.19 L254.88 149.48 L254.87 148.76 L254.85 148.05 L254.83 147.33 L254.79 146.61 L254.75 145.89 L254.7 145.16 L254.64 144.44 L254.57 143.71 L254.5 142.98 L254.41 142.25 L254.7 142" fill="none" stroke="#d878d6" stroke-width="1.05" stroke-linejoin="round"/><line x1="161.4" y1="137.9" x2="170" y2="137.9" stroke="#a8a8dc" stroke-width="1"/><text x="170.9" y="138.95" class="lg">1</text><line x1="161.4" y1="142.4" x2="170" y2="142.4" stroke="#80c0a0" stroke-width="1"/><text x="170.9" y="143.45" class="lg">2</text><line x1="161.4" y1="146.8" x2="170" y2="146.8" stroke="#d09890" stroke-width="1"/><text x="170.9" y="147.85" class="lg">3</text><line x1="161.4" y1="151.4" x2="170" y2="151.4" stroke="#e8a0e0" stroke-width="1"/><text x="170.9" y="152.45" class="lg">4</text></g>
<g><rect x="295.2" y="133.3" width="101.5" height="97.3" fill="none" stroke="#4a4a4a" stroke-width="1.1"/><text x="291.5" y="232.65" text-anchor="end" class="tk" textLength="2.3" lengthAdjust="spacingAndGlyphs">0</text><text x="291.5" y="220.49" text-anchor="end" class="tk" textLength="2.3" lengthAdjust="spacingAndGlyphs">5</text><text x="291.5" y="208.33" text-anchor="end" class="tk" textLength="4.6" lengthAdjust="spacingAndGlyphs">10</text><text x="291.5" y="196.16" text-anchor="end" class="tk" textLength="4.6" lengthAdjust="spacingAndGlyphs">15</text><text x="291.5" y="184" text-anchor="end" class="tk" textLength="4.6" lengthAdjust="spacingAndGlyphs">20</text><text x="291.5" y="171.84" text-anchor="end" class="tk" textLength="4.6" lengthAdjust="spacingAndGlyphs">25</text><text x="291.5" y="159.68" text-anchor="end" class="tk" textLength="4.6" lengthAdjust="spacingAndGlyphs">30</text><text x="291.5" y="147.51" text-anchor="end" class="tk" textLength="4.6" lengthAdjust="spacingAndGlyphs">35</text><text x="291.5" y="135.35" text-anchor="end" class="tk" textLength="4.6" lengthAdjust="spacingAndGlyphs">40</text><text x="295.2" y="240.24" text-anchor="middle" class="tk" textLength="2.3" lengthAdjust="spacingAndGlyphs">0</text><text x="315.5" y="240.24" text-anchor="middle" class="tk" textLength="4.6" lengthAdjust="spacingAndGlyphs">10</text><text x="335.8" y="240.24" text-anchor="middle" class="tk" textLength="4.6" lengthAdjust="spacingAndGlyphs">20</text><text x="356.1" y="240.24" text-anchor="middle" class="tk" textLength="4.6" lengthAdjust="spacingAndGlyphs">30</text><text x="376.4" y="240.24" text-anchor="middle" class="tk" textLength="4.6" lengthAdjust="spacingAndGlyphs">40</text><text x="396.7" y="240.24" text-anchor="middle" class="tk" textLength="4.6" lengthAdjust="spacingAndGlyphs">50</text><text x="345.95" y="248.58" text-anchor="middle" class="al">Time, hr</text><text transform="translate(283.21 181.95) rotate(-90)" x="0" y="0" text-anchor="middle" class="yl">Creep strain, %</text><text x="352.9" y="148.98" class="ti" textLength="36.9" lengthAdjust="spacing">(g) 62 MPa</text><path d="M295.3 229.8 L295.56 229.03 L296.09 228.63 L296.61 228.23 L297.14 227.83 L297.67 227.44 L298.2 227.04 L298.73 226.64 L299.27 226.25 L299.8 225.85 L300.34 225.46 L300.88 225.06 L301.42 224.67 L301.96 224.28 L302.5 223.88 L303.04 223.49 L303.58 223.1 L304.13 222.71 L304.67 222.32 L305.22 221.92 L305.76 221.53 L306.31 221.14 L306.86 220.75 L307.41 220.36 L307.95 219.97 L308.5 219.58 L309.05 219.18 L309.6 218.79 L310.15 218.4 L310.7 218.01 L311.25 217.61 L311.8 217.22 L312.34 216.82 L312.89 216.43 L313.44 216.03 L313.99 215.64 L314.53 215.24 L315.08 214.84 L315.63 214.44 L316.17 214.04 L316.72 213.64 L317.26 213.24 L317.8 212.84 L318.34 212.44 L318.88 212.03 L319.42 211.63 L319.96 211.22 L320.5 210.81 L321.03 210.4 L321.56 209.99 L322.1 209.58 L322.63 209.16 L323.16 208.75 L323.68 208.33 L324.21 207.91 L324.73 207.49 L325.25 207.07 L325.77 206.64 L326.29 206.22 L326.8 205.79 L327.32 205.36 L327.83 204.93 L328.34 204.49 L328.84 204.06 L329.35 203.62 L329.85 203.18 L330.34 202.74 L330.84 202.29 L331.33 201.84 L331.82 201.39 L332.31 200.94 L332.79 200.49 L333.27 200.03 L333.75 199.57 L334.22 199.11 L334.69 198.64 L335.16 198.17 L335.63 197.7 L336.09 197.23 L336.54 196.75 L337 196.27 L337.45 195.79 L337.89 195.3 L338.33 194.81 L338.77 194.32 L339.2 193.83 L339.63 193.33 L340.06 192.82 L340.48 192.32 L340.9 191.81 L341.31 191.3 L341.72 190.78 L342.12 190.26 L342.52 189.74 L342.91 189.21 L343.3 188.68 L343.69 188.15 L344.07 187.61 L344.44 187.07 L344.81 186.52 L345.17 185.97 L345.53 185.42 L345.89 184.86 L346.24 184.3 L346.58 183.73 L346.92 183.16 L347.25 182.58 L347.57 182 L347.9 181.42 L348.21 180.83 L348.52 180.24 L348.83 179.65 L349.13 179.05 L349.42 178.45 L349.71 177.84 L350 177.23 L350.27 176.62 L350.55 176 L350.82 175.38 L351.08 174.76 L351.34 174.14 L351.59 173.51 L351.84 172.88 L352.09 172.25 L352.33 171.61 L352.56 170.98 L352.79 170.34 L353.02 169.69 L353.24 169.05 L353.45 168.4 L353.67 167.76 L353.87 167.11 L354.07 166.45 L354.27 165.8 L354.47 165.15 L354.65 164.49 L354.84 163.83 L355.02 163.18 L355.2 162.52 L355.37 161.85 L355.54 161.19 L355.7 160.53 L355.86 159.87 L356.01 159.2 L356.16 158.54 L356.31 157.87 L356.46 157.21 L356.59 156.54 L356.73 155.88 L356.86 155.21 L356.99 154.55 L357.11 153.88 L357.23 153.22 L357.35 152.55 L357.46 151.89 L357.57 151.22 L357.68 150.56 L357.78 149.9 L357.88 149.24 L357.98 148.58 L358.07 147.92 L358.16 147.26 L358.24 146.6 L358.4 146" fill="none" stroke="#7674c0" stroke-width="1.05" stroke-linejoin="round"/><path d="M295.3 229.8 L295.85 229.37 L296.43 229.06 L297 228.75 L297.58 228.44 L298.17 228.13 L298.75 227.82 L299.33 227.51 L299.92 227.2 L300.51 226.9 L301.1 226.59 L301.69 226.28 L302.28 225.98 L302.87 225.67 L303.47 225.37 L304.06 225.06 L304.66 224.76 L305.26 224.45 L305.85 224.15 L306.45 223.84 L307.05 223.54 L307.65 223.23 L308.25 222.93 L308.86 222.62 L309.46 222.31 L310.06 222.01 L310.66 221.7 L311.27 221.39 L311.87 221.09 L312.47 220.78 L313.08 220.47 L313.68 220.16 L314.28 219.85 L314.89 219.54 L315.49 219.23 L316.09 218.92 L316.7 218.6 L317.3 218.29 L317.9 217.97 L318.5 217.66 L319.1 217.34 L319.71 217.02 L320.31 216.7 L320.9 216.38 L321.5 216.06 L322.1 215.74 L322.7 215.41 L323.29 215.09 L323.89 214.76 L324.48 214.43 L325.08 214.1 L325.67 213.76 L326.26 213.43 L326.85 213.09 L327.44 212.76 L328.02 212.42 L328.61 212.07 L329.19 211.73 L329.77 211.38 L330.35 211.04 L330.93 210.69 L331.51 210.33 L332.08 209.98 L332.66 209.62 L333.23 209.26 L333.79 208.9 L334.36 208.54 L334.93 208.17 L335.49 207.8 L336.05 207.43 L336.61 207.06 L337.16 206.68 L337.71 206.3 L338.26 205.92 L338.81 205.53 L339.36 205.15 L339.9 204.76 L340.44 204.36 L340.97 203.96 L341.51 203.56 L342.04 203.16 L342.57 202.75 L343.09 202.34 L343.61 201.93 L344.13 201.51 L344.64 201.09 L345.15 200.67 L345.66 200.24 L346.17 199.81 L346.67 199.38 L347.17 198.94 L347.66 198.5 L348.15 198.06 L348.64 197.61 L349.12 197.15 L349.6 196.7 L350.07 196.24 L350.54 195.77 L351.01 195.3 L351.47 194.83 L351.93 194.35 L352.38 193.87 L352.83 193.38 L353.28 192.89 L353.72 192.4 L354.15 191.9 L354.58 191.4 L355.01 190.89 L355.43 190.38 L355.85 189.86 L356.26 189.34 L356.67 188.81 L357.07 188.28 L357.47 187.74 L357.86 187.2 L358.25 186.65 L358.63 186.1 L359.01 185.55 L359.38 184.98 L359.74 184.42 L360.1 183.85 L360.46 183.27 L360.81 182.69 L361.15 182.1 L361.49 181.5 L361.82 180.91 L362.15 180.3 L362.47 179.69 L362.78 179.08 L363.09 178.46 L363.4 177.83 L363.69 177.2 L363.98 176.56 L364.27 175.91 L364.54 175.26 L364.81 174.61 L365.08 173.94 L365.34 173.28 L365.8 172.9" fill="none" stroke="#bc6c64" stroke-width="1.05" stroke-linejoin="round"/><path d="M295.3 229.8 L295.89 229.43 L296.46 229.1 L297.03 228.77 L297.6 228.44 L298.17 228.11 L298.75 227.79 L299.33 227.47 L299.91 227.14 L300.49 226.83 L301.07 226.51 L301.66 226.19 L302.24 225.88 L302.83 225.56 L303.43 225.25 L304.02 224.94 L304.61 224.63 L305.21 224.32 L305.8 224.01 L306.4 223.7 L307 223.4 L307.6 223.09 L308.21 222.79 L308.81 222.48 L309.41 222.18 L310.02 221.88 L310.63 221.58 L311.23 221.27 L311.84 220.97 L312.45 220.67 L313.06 220.37 L313.67 220.07 L314.28 219.77 L314.89 219.47 L315.5 219.17 L316.11 218.87 L316.72 218.56 L317.33 218.26 L317.95 217.96 L318.56 217.66 L319.17 217.36 L319.78 217.06 L320.39 216.75 L321 216.45 L321.62 216.14 L322.23 215.84 L322.84 215.53 L323.45 215.23 L324.06 214.92 L324.66 214.61 L325.27 214.3 L325.88 213.99 L326.49 213.68 L327.09 213.36 L327.7 213.05 L328.3 212.73 L328.9 212.41 L329.5 212.09 L330.1 211.77 L330.7 211.45 L331.3 211.13 L331.9 210.8 L332.49 210.47 L333.08 210.14 L333.68 209.81 L334.27 209.48 L334.85 209.14 L335.44 208.81 L336.03 208.47 L336.61 208.12 L337.19 207.78 L337.77 207.43 L338.34 207.08 L338.92 206.73 L339.49 206.38 L340.06 206.02 L340.63 205.66 L341.19 205.3 L341.75 204.93 L342.31 204.56 L342.87 204.19 L343.42 203.82 L343.98 203.44 L344.52 203.06 L345.07 202.67 L345.61 202.29 L346.15 201.9 L346.69 201.5 L347.22 201.1 L347.75 200.7 L348.28 200.3 L348.8 199.89 L349.32 199.48 L349.84 199.06 L350.35 198.64 L350.86 198.22 L351.37 197.79 L351.87 197.36 L352.37 196.92 L352.86 196.48 L353.35 196.04 L353.84 195.59 L354.32 195.13 L354.8 194.67 L355.27 194.21 L355.74 193.74 L356.21 193.27 L356.67 192.8 L357.12 192.31 L357.57 191.83 L358.02 191.34 L358.46 190.84 L358.9 190.34 L359.33 189.83 L359.76 189.32 L360.18 188.81 L360.6 188.28 L361.01 187.76 L361.42 187.22 L361.82 186.69 L362.22 186.14 L362.61 185.59 L363 185.04 L363.38 184.48 L363.75 183.91 L364.12 183.34 L364.48 182.76 L364.84 182.17 L365.19 181.58 L365.54 180.99 L365.88 180.38 L366.21 179.77 L366.54 179.16 L366.86 178.54 L367.18 177.91 L367.49 177.27 L367.79 176.63 L368.09 175.98 L368.38 175.33 L368.8 174.9" fill="none" stroke="#5caa80" stroke-width="1.05" stroke-linejoin="round"/><path d="M295.3 229.8 L295.94 229.55 L296.54 229.26 L297.14 228.97 L297.74 228.68 L298.34 228.39 L298.94 228.11 L299.54 227.82 L300.15 227.54 L300.75 227.26 L301.36 226.98 L301.96 226.69 L302.57 226.42 L303.17 226.14 L303.78 225.86 L304.39 225.58 L305 225.3 L305.61 225.03 L306.22 224.75 L306.83 224.48 L307.44 224.2 L308.05 223.93 L308.66 223.66 L309.27 223.38 L309.88 223.11 L310.49 222.84 L311.1 222.56 L311.71 222.29 L312.33 222.02 L312.94 221.75 L313.55 221.47 L314.16 221.2 L314.78 220.93 L315.39 220.66 L316 220.38 L316.61 220.11 L317.23 219.84 L317.84 219.56 L318.45 219.29 L319.06 219.02 L319.68 218.74 L320.29 218.46 L320.9 218.19 L321.51 217.91 L322.12 217.63 L322.73 217.36 L323.34 217.08 L323.95 216.8 L324.56 216.52 L325.17 216.23 L325.78 215.95 L326.39 215.67 L327 215.38 L327.6 215.1 L328.21 214.81 L328.82 214.52 L329.42 214.23 L330.03 213.94 L330.63 213.65 L331.24 213.35 L331.84 213.06 L332.44 212.76 L333.04 212.46 L333.64 212.16 L334.24 211.86 L334.84 211.56 L335.44 211.25 L336.03 210.95 L336.63 210.64 L337.22 210.33 L337.82 210.01 L338.41 209.7 L339 209.38 L339.59 209.06 L340.18 208.74 L340.77 208.42 L341.36 208.09 L341.94 207.77 L342.53 207.44 L343.11 207.1 L343.69 206.77 L344.27 206.43 L344.85 206.09 L345.43 205.75 L346 205.4 L346.58 205.05 L347.15 204.7 L347.72 204.35 L348.29 203.99 L348.86 203.63 L349.43 203.27 L350 202.91 L350.56 202.54 L351.12 202.17 L351.68 201.79 L352.24 201.42 L352.79 201.04 L353.35 200.65 L353.9 200.27 L354.45 199.88 L354.99 199.49 L355.54 199.09 L356.08 198.69 L356.62 198.29 L357.16 197.88 L357.69 197.48 L358.22 197.07 L358.75 196.65 L359.27 196.23 L359.8 195.81 L360.32 195.39 L360.83 194.96 L361.34 194.53 L361.85 194.1 L362.36 193.66 L362.86 193.22 L363.36 192.77 L363.86 192.33 L364.35 191.87 L364.84 191.42 L365.32 190.96 L365.8 190.5 L366.28 190.04 L366.75 189.57 L367.22 189.09 L367.68 188.62 L368.14 188.14 L368.6 187.66 L369.05 187.17 L369.5 186.68 L369.94 186.19 L370.38 185.69 L370.81 185.19 L371.24 184.69 L371.66 184.18 L372.08 183.67 L372.49 183.15 L372.9 182.63 L373.3 182.11 L373.7 181.58 L374.1 181.05 L374.48 180.51 L374.87 179.98 L375.24 179.43 L375.61 178.89 L375.98 178.34 L376.34 177.78 L376.69 177.23 L377.04 176.66 L377.38 176.1 L377.72 175.53 L378.05 174.95 L378.38 174.38 L378.69 173.79 L379.01 173.21 L379.31 172.62 L379.61 172.02 L379.9 171.43 L380.19 170.82 L380.47 170.22 L380.75 169.61 L381.01 169 L381.28 168.38 L381.53 167.76 L381.78 167.14 L382.02 166.51 L382.26 165.88 L382.49 165.25 L382.71 164.61 L382.93 163.97 L383.14 163.33 L383.34 162.69 L383.54 162.04 L383.73 161.39 L383.92 160.73 L384.1 160.07 L384.27 159.41 L384.44 158.75 L384.6 158.09 L384.75 157.42 L384.89 156.75 L385.03 156.08 L385.17 155.4 L385.3 154.72 L385.42 154.04 L385.53 153.36 L385.64 152.68 L385.74 151.99 L385.83 151.3 L385.92 150.61 L386 149.92 L386.08 149.23 L386.3 148.7" fill="none" stroke="#d878d6" stroke-width="1.05" stroke-linejoin="round"/><line x1="298.5" y1="137.3" x2="307" y2="137.3" stroke="#a8a8dc" stroke-width="1"/><text x="307.9" y="138.35" class="lg">1</text><line x1="298.5" y1="141.2" x2="307" y2="141.2" stroke="#e8a0e0" stroke-width="1"/><text x="307.9" y="142.25" class="lg">2</text><line x1="298.5" y1="146.2" x2="307" y2="146.2" stroke="#80c0a0" stroke-width="1"/><text x="307.9" y="147.25" class="lg">3</text><line x1="298.5" y1="150.6" x2="307" y2="150.6" stroke="#d09890" stroke-width="1"/><text x="307.9" y="151.65" class="lg">4</text></g>
<g><rect x="433.9" y="133.1" width="101.5" height="95.2" fill="none" stroke="#4a4a4a" stroke-width="1.1"/><text x="430.2" y="230.35" text-anchor="end" class="tk" textLength="2.3" lengthAdjust="spacingAndGlyphs">0</text><text x="430.2" y="214.48" text-anchor="end" class="tk" textLength="2.3" lengthAdjust="spacingAndGlyphs">9</text><text x="430.2" y="198.62" text-anchor="end" class="tk" textLength="4.6" lengthAdjust="spacingAndGlyphs">18</text><text x="430.2" y="182.75" text-anchor="end" class="tk" textLength="4.6" lengthAdjust="spacingAndGlyphs">27</text><text x="430.2" y="166.88" text-anchor="end" class="tk" textLength="4.6" lengthAdjust="spacingAndGlyphs">36</text><text x="430.2" y="151.02" text-anchor="end" class="tk" textLength="4.6" lengthAdjust="spacingAndGlyphs">45</text><text x="430.2" y="135.15" text-anchor="end" class="tk" textLength="4.6" lengthAdjust="spacingAndGlyphs">54</text><text x="433.9" y="236.96" text-anchor="middle" class="tk" textLength="2.3" lengthAdjust="spacingAndGlyphs">0</text><text x="459.27" y="236.96" text-anchor="middle" class="tk" textLength="4.6" lengthAdjust="spacingAndGlyphs">10</text><text x="484.65" y="236.96" text-anchor="middle" class="tk" textLength="4.6" lengthAdjust="spacingAndGlyphs">20</text><text x="510.02" y="236.96" text-anchor="middle" class="tk" textLength="4.6" lengthAdjust="spacingAndGlyphs">30</text><text x="535.4" y="236.96" text-anchor="middle" class="tk" textLength="4.6" lengthAdjust="spacingAndGlyphs">40</text><text x="484.65" y="245.88" text-anchor="middle" class="al">Time, hr</text><text transform="translate(421.91 180.7) rotate(-90)" x="0" y="0" text-anchor="middle" class="yl">Creep strain, %</text><text x="493.6" y="148.98" class="ti" textLength="37.4" lengthAdjust="spacing">(h) 68 MPa</text><path d="M433.7 227.4 L434.15 226.84 L434.71 226.47 L435.27 226.1 L435.84 225.73 L436.41 225.36 L436.98 225 L437.55 224.64 L438.12 224.28 L438.69 223.92 L439.27 223.57 L439.85 223.21 L440.42 222.86 L441 222.51 L441.58 222.16 L442.16 221.81 L442.75 221.47 L443.33 221.12 L443.91 220.77 L444.5 220.43 L445.08 220.09 L445.67 219.74 L446.25 219.4 L446.84 219.06 L447.43 218.72 L448.01 218.37 L448.6 218.03 L449.18 217.69 L449.77 217.35 L450.35 217 L450.94 216.66 L451.52 216.32 L452.11 215.97 L452.69 215.63 L453.27 215.28 L453.86 214.93 L454.44 214.58 L455.02 214.23 L455.6 213.88 L456.17 213.53 L456.75 213.17 L457.33 212.81 L457.9 212.46 L458.47 212.09 L459.04 211.73 L459.61 211.37 L460.18 211 L460.74 210.63 L461.3 210.26 L461.87 209.88 L462.42 209.5 L462.98 209.12 L463.53 208.73 L464.09 208.35 L464.63 207.96 L465.18 207.56 L465.72 207.16 L466.27 206.76 L466.8 206.36 L467.34 205.95 L467.87 205.53 L468.4 205.11 L468.92 204.69 L469.45 204.27 L469.96 203.83 L470.48 203.4 L470.99 202.96 L471.5 202.51 L472 202.06 L472.5 201.61 L473 201.15 L473.49 200.68 L473.98 200.21 L474.46 199.73 L474.94 199.25 L475.41 198.76 L475.88 198.27 L476.35 197.77 L476.81 197.26 L477.26 196.75 L477.71 196.23 L478.16 195.7 L478.6 195.17 L479.04 194.63 L479.47 194.09 L479.89 193.53 L480.31 192.97 L480.73 192.41 L481.13 191.83 L481.7 191.5" fill="none" stroke="#bc6c64" stroke-width="1.05" stroke-linejoin="round"/><path d="M433.7 227.4 L434.31 227.07 L434.86 226.74 L435.41 226.4 L435.96 226.07 L436.52 225.74 L437.08 225.41 L437.64 225.08 L438.21 224.75 L438.78 224.42 L439.35 224.09 L439.92 223.76 L440.5 223.43 L441.07 223.11 L441.65 222.78 L442.24 222.45 L442.82 222.13 L443.41 221.8 L444 221.47 L444.59 221.14 L445.18 220.82 L445.77 220.49 L446.37 220.16 L446.96 219.84 L447.56 219.51 L448.16 219.18 L448.76 218.85 L449.36 218.52 L449.96 218.19 L450.56 217.86 L451.17 217.53 L451.77 217.2 L452.37 216.87 L452.98 216.53 L453.58 216.2 L454.18 215.86 L454.79 215.52 L455.39 215.19 L455.99 214.85 L456.6 214.5 L457.2 214.16 L457.8 213.82 L458.4 213.47 L459 213.13 L459.6 212.78 L460.2 212.43 L460.8 212.08 L461.39 211.72 L461.99 211.37 L462.58 211.01 L463.17 210.65 L463.76 210.29 L464.35 209.93 L464.94 209.56 L465.52 209.19 L466.1 208.82 L466.68 208.45 L467.26 208.07 L467.84 207.7 L468.41 207.32 L468.98 206.93 L469.55 206.55 L470.12 206.16 L470.68 205.77 L471.24 205.37 L471.79 204.97 L472.35 204.57 L472.9 204.17 L473.44 203.76 L473.98 203.35 L474.52 202.94 L475.06 202.52 L475.59 202.11 L476.12 201.68 L476.64 201.25 L477.16 200.82 L477.68 200.39 L478.19 199.95 L478.69 199.51 L479.19 199.06 L479.69 198.62 L480.18 198.16 L480.67 197.7 L481.15 197.24 L481.63 196.78 L482.1 196.31 L482.57 195.83 L483.03 195.35 L483.49 194.87 L483.94 194.38 L484.38 193.89 L484.82 193.39 L485.25 192.89 L485.68 192.38 L486.1 191.87 L486.51 191.36 L486.92 190.84 L487.32 190.31 L487.71 189.78 L488.1 189.24 L488.48 188.7 L488.86 188.15 L489.23 187.6 L489.59 187.04 L489.94 186.48 L490.28 185.91 L490.62 185.34 L490.95 184.76 L491.28 184.17 L491.59 183.58 L491.9 182.98 L492.2 182.38 L492.49 181.77 L492.77 181.16 L493.05 180.54 L493.31 179.91 L493.57 179.28 L493.82 178.64 L494.06 177.99 L494.3 177.34 L494.52 176.68 L494.73 176.01 L494.94 175.34 L495.13 174.66 L495.32 173.97 L495.5 173.28 L495.67 172.58 L495.8 172 L496.6 164.5 L496.6 142.5" fill="none" stroke="#5caa80" stroke-width="1.05" stroke-linejoin="round"/><path d="M433.7 227.4 L434.23 226.79 L434.82 226.57 L435.41 226.34 L436.01 226.12 L436.61 225.89 L437.21 225.66 L437.81 225.43 L438.42 225.2 L439.02 224.97 L439.63 224.73 L440.24 224.5 L440.86 224.26 L441.47 224.03 L442.09 223.79 L442.71 223.55 L443.33 223.31 L443.95 223.07 L444.57 222.82 L445.2 222.58 L445.82 222.33 L446.45 222.08 L447.07 221.83 L447.7 221.58 L448.33 221.33 L448.96 221.07 L449.59 220.81 L450.22 220.55 L450.85 220.29 L451.48 220.03 L452.11 219.76 L452.74 219.5 L453.37 219.23 L454 218.95 L454.63 218.68 L455.26 218.4 L455.89 218.12 L456.52 217.84 L457.15 217.56 L457.77 217.27 L458.4 216.99 L459.03 216.7 L459.65 216.4 L460.27 216.11 L460.9 215.81 L461.52 215.51 L462.14 215.2 L462.75 214.89 L463.37 214.59 L463.99 214.27 L464.6 213.96 L465.21 213.64 L465.82 213.32 L466.42 212.99 L467.03 212.66 L467.63 212.33 L468.23 212 L468.83 211.66 L469.42 211.32 L470.01 210.98 L470.6 210.63 L471.19 210.28 L471.77 209.92 L472.35 209.56 L472.93 209.2 L473.5 208.84 L474.07 208.47 L474.63 208.1 L475.2 207.72 L475.76 207.34 L476.31 206.96 L476.86 206.57 L477.41 206.18 L477.95 205.78 L478.49 205.38 L479.03 204.98 L479.56 204.57 L480.08 204.16 L480.6 203.74 L481.12 203.32 L481.63 202.89 L482.14 202.47 L482.64 202.03 L483.14 201.59 L483.63 201.15 L484.11 200.7 L484.6 200.25 L485.07 199.8 L485.54 199.34 L486.01 198.87 L486.46 198.4 L486.92 197.92 L487.36 197.44 L487.8 196.96 L488.24 196.47 L488.67 195.98 L489.09 195.48 L489.5 194.97 L489.91 194.46 L490.31 193.95 L490.71 193.43 L491.1 192.9 L491.48 192.37 L491.85 191.84 L492.22 191.3 L492.58 190.75 L492.94 190.2 L493.28 189.64 L493.62 189.08 L493.95 188.52 L494.28 187.95 L494.59 187.38 L494.9 186.8 L495.2 186.21 L495.5 185.62 L495.78 185.03 L496.06 184.43 L496.33 183.83 L496.59 183.22 L496.85 182.61 L497.09 182 L497.33 181.37 L497.56 180.75 L497.78 180.12 L497.99 179.49 L498.2 178.85 L498.39 178.2 L498.58 177.56 L498.76 176.91 L498.93 176.25 L499.09 175.59 L499.24 174.93 L499.38 174.26 L499.52 173.59 L499.64 172.91 L499.76 172.23 L499.86 171.54 L499.96 170.86 L500.05 170.16 L500.12 169.47 L500.19 168.77 L500.25 168.06 L500.3 167.35 L500.34 166.64 L500.37 165.93 L500.39 165.21 L500.4 164.48 L500.4 163.75 L500.39 163.02 L500.37 162.29 L500.33 161.55 L500.29 160.81 L500.24 160.06 L500.18 159.31 L500.4 159" fill="none" stroke="#d878d6" stroke-width="1.05" stroke-linejoin="round"/><path d="M433.7 227.4 L434.32 226.91 L434.9 226.69 L435.48 226.46 L436.07 226.23 L436.66 226.01 L437.25 225.78 L437.85 225.55 L438.45 225.33 L439.05 225.1 L439.66 224.87 L440.27 224.64 L440.88 224.41 L441.49 224.18 L442.1 223.95 L442.72 223.72 L443.34 223.49 L443.96 223.26 L444.58 223.03 L445.21 222.79 L445.83 222.56 L446.46 222.32 L447.09 222.09 L447.72 221.85 L448.35 221.61 L448.98 221.37 L449.61 221.13 L450.25 220.89 L450.88 220.64 L451.52 220.39 L452.15 220.15 L452.79 219.9 L453.42 219.65 L454.06 219.4 L454.7 219.14 L455.33 218.89 L455.97 218.63 L456.61 218.37 L457.24 218.11 L457.88 217.84 L458.51 217.57 L459.15 217.31 L459.78 217.04 L460.41 216.76 L461.05 216.49 L461.68 216.21 L462.31 215.93 L462.93 215.65 L463.56 215.36 L464.19 215.07 L464.81 214.78 L465.43 214.49 L466.05 214.19 L466.67 213.89 L467.29 213.59 L467.9 213.28 L468.51 212.97 L469.12 212.66 L469.73 212.34 L470.34 212.03 L470.94 211.7 L471.54 211.38 L472.13 211.05 L472.73 210.72 L473.32 210.38 L473.9 210.04 L474.49 209.7 L475.07 209.35 L475.65 209 L476.22 208.64 L476.79 208.28 L477.35 207.92 L477.92 207.55 L478.47 207.18 L479.03 206.81 L479.58 206.43 L480.12 206.04 L480.66 205.65 L481.2 205.26 L481.73 204.86 L482.26 204.46 L482.78 204.05 L483.3 203.64 L483.81 203.23 L484.31 202.81 L484.82 202.38 L485.31 201.95 L485.8 201.51 L486.29 201.07 L486.77 200.63 L487.24 200.17 L487.71 199.72 L488.17 199.26 L488.62 198.79 L489.07 198.32 L489.51 197.84 L489.95 197.35 L490.38 196.86 L490.8 196.37 L491.22 195.87 L491.63 195.36 L492.03 194.85 L492.43 194.33 L492.81 193.81 L493.19 193.28 L493.57 192.74 L493.93 192.2 L494.29 191.65 L494.64 191.09 L494.98 190.53 L495.32 189.96 L495.65 189.39 L495.96 188.81 L496.27 188.22 L496.58 187.63 L496.87 187.03 L497.15 186.42 L497.43 185.81 L497.7 185.18 L497.96 184.56 L498.21 183.92 L498.45 183.28 L498.68 182.63 L498.9 181.97 L499.11 181.31 L499.31 180.64 L499.51 179.96 L499.69 179.27 L499.86 178.58 L500.03 177.88 L500.18 177.17 L500.32 176.45 L500.46 175.73 L500.58 175 L500.69 174.26 L500.7 173.8" fill="none" stroke="#7674c0" stroke-width="1.05" stroke-linejoin="round"/><line x1="436.8" y1="137.5" x2="445.3" y2="137.5" stroke="#a8a8dc" stroke-width="1"/><text x="446.2" y="138.55" class="lg">1</text><line x1="436.8" y1="142.1" x2="445.3" y2="142.1" stroke="#d09890" stroke-width="1"/><text x="446.2" y="143.15" class="lg">2</text><line x1="436.8" y1="146.5" x2="445.3" y2="146.5" stroke="#e8a0e0" stroke-width="1"/><text x="446.2" y="147.55" class="lg">3</text><line x1="436.8" y1="151.2" x2="445.3" y2="151.2" stroke="#80c0a0" stroke-width="1"/><text x="446.2" y="152.25" class="lg">4</text></g>
</svg></body></html>
